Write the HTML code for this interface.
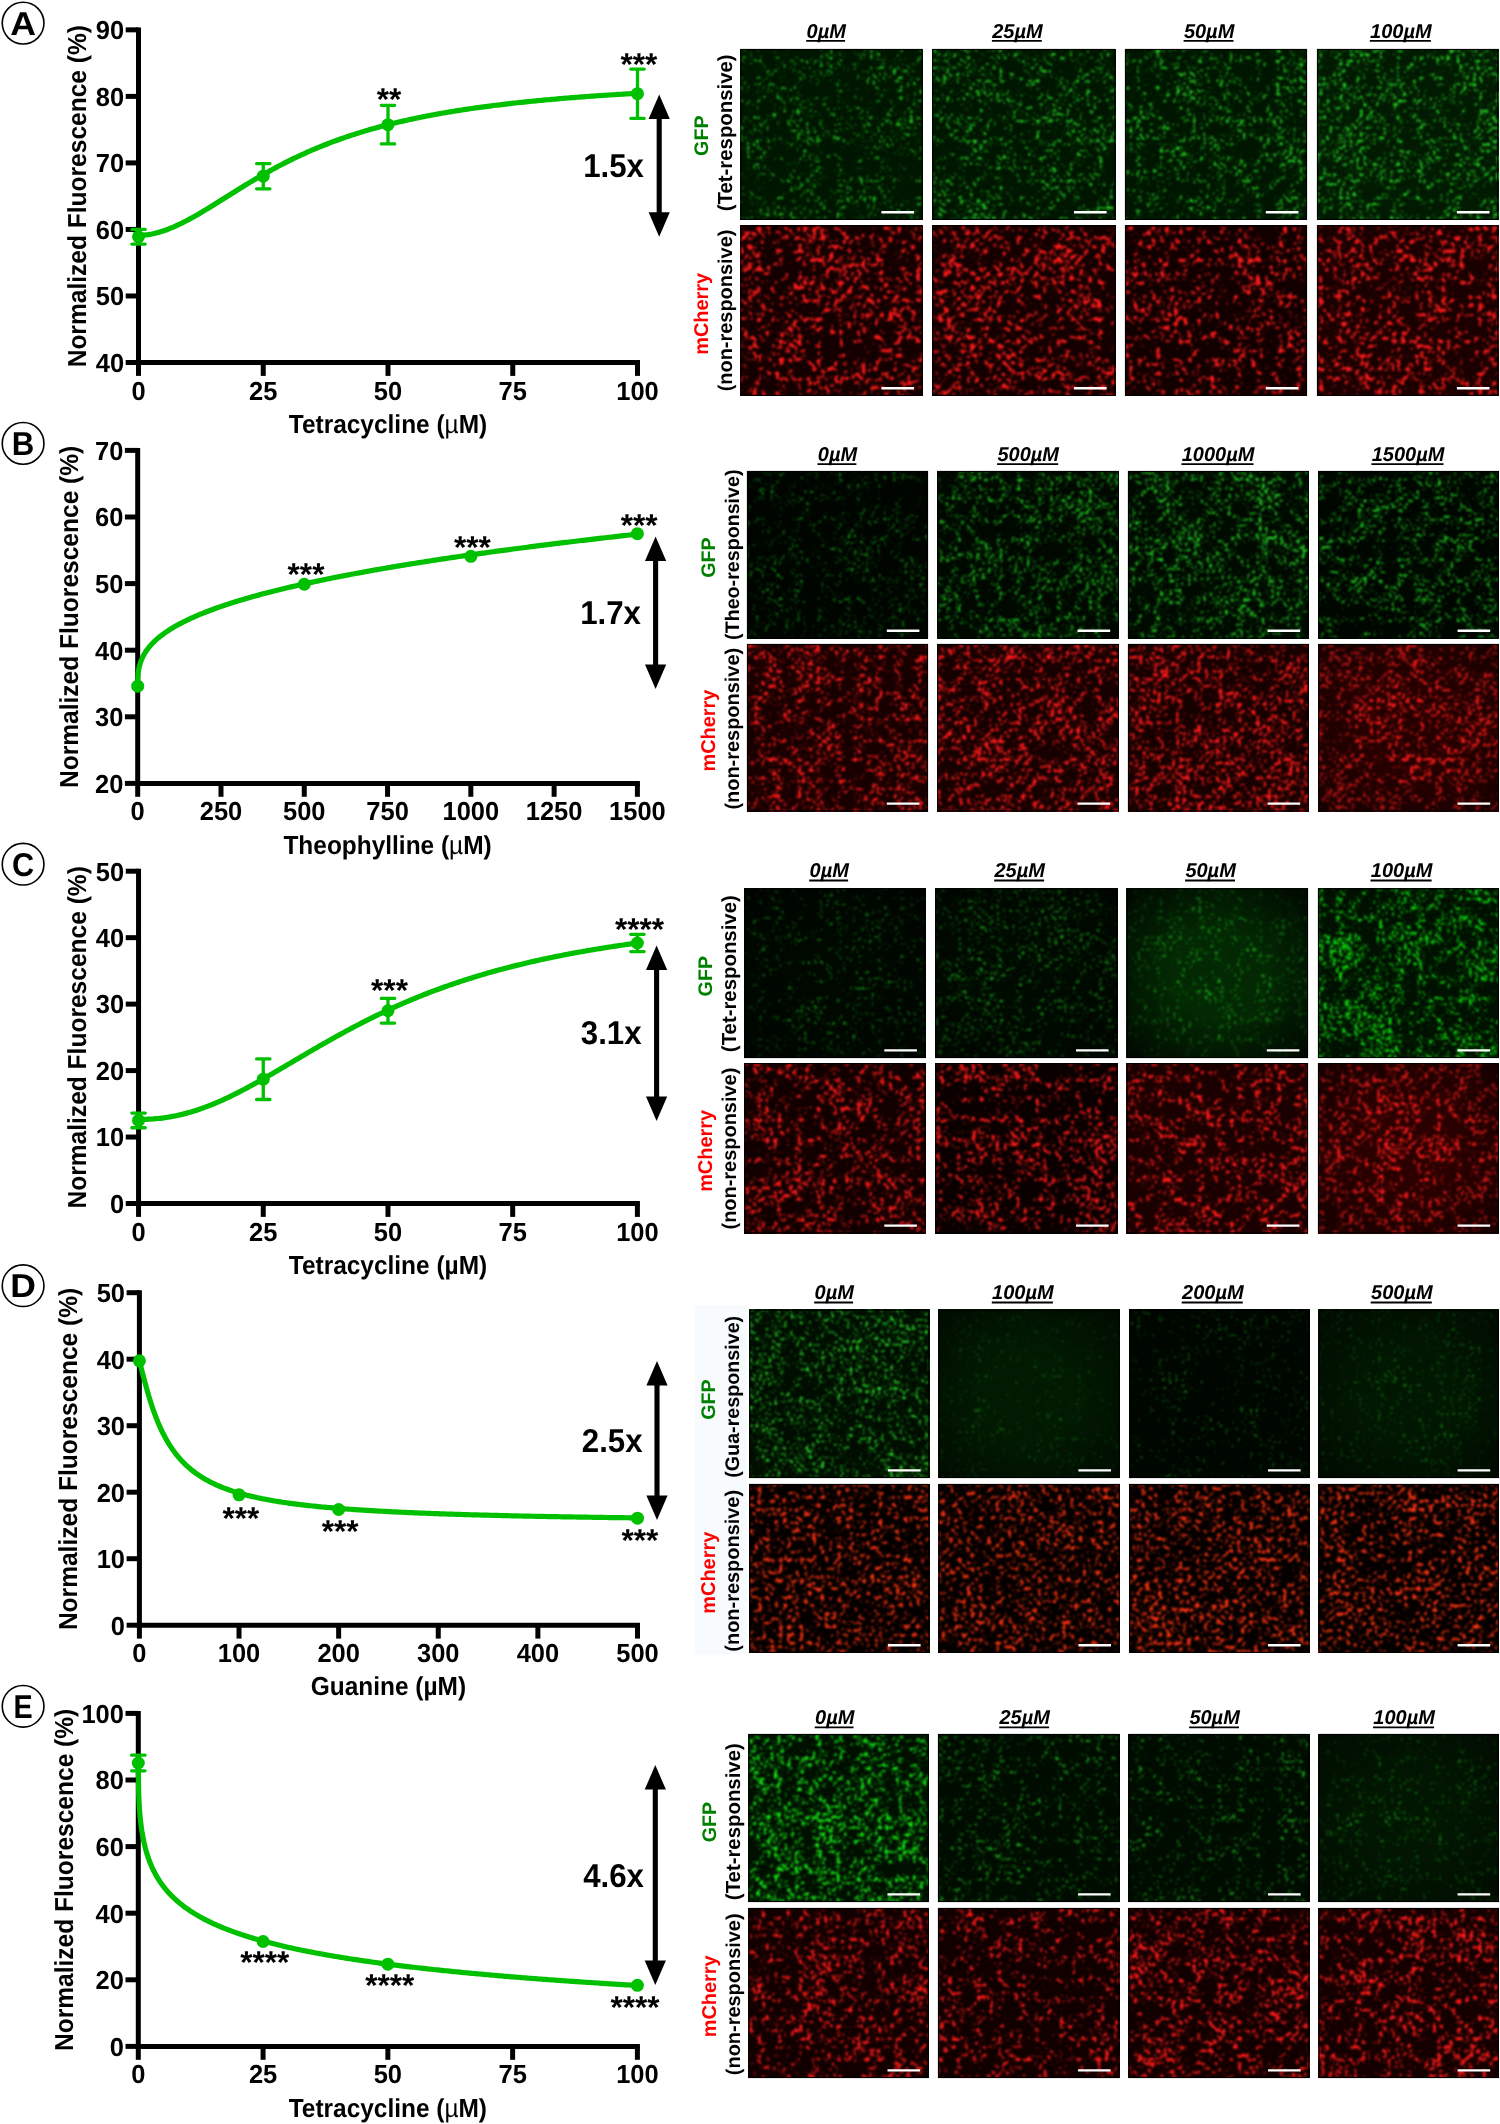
<!DOCTYPE html>
<html><head><meta charset="utf-8"><title>Figure</title>
<style>html,body{margin:0;padding:0;background:#fff;width:1500px;height:2124px;overflow:hidden}svg{display:block}text{text-rendering:geometricPrecision}</style></head>
<body><svg style="will-change:transform" width="1500" height="2124" viewBox="0 0 1500 2124">
<defs>
<radialGradient id="vig" cx="0.5" cy="0.5" r="0.72"><stop offset="0.35" stop-color="#000" stop-opacity="0"/><stop offset="1" stop-color="#000" stop-opacity="1"/></radialGradient>
<filter id="t1" x="0" y="0" width="1" height="1" color-interpolation-filters="sRGB"><feTurbulence type="fractalNoise" baseFrequency="0.3" numOctaves="2" seed="14" result="n0"/><feColorMatrix in="n0" type="matrix" values="1 0 0 0 0 0 1 0 0 0 0 0 1 0 0 0 0 0 0 1" result="n"/><feTurbulence type="turbulence" baseFrequency="0.05" numOctaves="2" seed="45" result="r0"/><feColorMatrix in="r0" type="matrix" values="-1 0 0 0 1 0 1 0 0 0 0 0 1 0 0 0 0 0 0 1" result="r"/><feComposite in="n" in2="r" operator="arithmetic" k1="0" k2="1" k3="0.5" k4="-0.375" result="v1"/><feTurbulence type="fractalNoise" baseFrequency="0.025" numOctaves="2" seed="113" result="m0"/><feColorMatrix in="m0" type="matrix" values="1 0 0 0 0 0 1 0 0 0 0 0 1 0 0 0 0 0 0 1" result="m"/><feComposite in="v1" in2="m" operator="arithmetic" k1="0" k2="1" k3="0.15" k4="-0.075" result="v"/><feColorMatrix in="v" type="matrix" values="0 0 0 0 0.118 0 0 0 0 0.765 0 0 0 0 0.118 5.0 0 0 0 -3.092" result="d"/><feGaussianBlur in="d" stdDeviation="1.0" result="d3"/><feFlood flood-color="#011601" result="bg"/><feMerge><feMergeNode in="bg"/><feMergeNode in="d3"/></feMerge></filter>
<filter id="t2" x="0" y="0" width="1" height="1" color-interpolation-filters="sRGB"><feTurbulence type="fractalNoise" baseFrequency="0.3" numOctaves="2" seed="27" result="n0"/><feColorMatrix in="n0" type="matrix" values="1 0 0 0 0 0 1 0 0 0 0 0 1 0 0 0 0 0 0 1" result="n"/><feTurbulence type="turbulence" baseFrequency="0.05" numOctaves="2" seed="58" result="r0"/><feColorMatrix in="r0" type="matrix" values="-1 0 0 0 1 0 1 0 0 0 0 0 1 0 0 0 0 0 0 1" result="r"/><feComposite in="n" in2="r" operator="arithmetic" k1="0" k2="1" k3="0.5" k4="-0.375" result="v1"/><feTurbulence type="fractalNoise" baseFrequency="0.025" numOctaves="2" seed="126" result="m0"/><feColorMatrix in="m0" type="matrix" values="1 0 0 0 0 0 1 0 0 0 0 0 1 0 0 0 0 0 0 1" result="m"/><feComposite in="v1" in2="m" operator="arithmetic" k1="0" k2="1" k3="0.15" k4="-0.075" result="v"/><feColorMatrix in="v" type="matrix" values="0 0 0 0 0.137 0 0 0 0 0.824 0 0 0 0 0.137 5.0 0 0 0 -2.990" result="d"/><feGaussianBlur in="d" stdDeviation="1.0" result="d3"/><feFlood flood-color="#011601" result="bg"/><feMerge><feMergeNode in="bg"/><feMergeNode in="d3"/></feMerge></filter>
<filter id="t3" x="0" y="0" width="1" height="1" color-interpolation-filters="sRGB"><feTurbulence type="fractalNoise" baseFrequency="0.3" numOctaves="2" seed="40" result="n0"/><feColorMatrix in="n0" type="matrix" values="1 0 0 0 0 0 1 0 0 0 0 0 1 0 0 0 0 0 0 1" result="n"/><feTurbulence type="turbulence" baseFrequency="0.05" numOctaves="2" seed="71" result="r0"/><feColorMatrix in="r0" type="matrix" values="-1 0 0 0 1 0 1 0 0 0 0 0 1 0 0 0 0 0 0 1" result="r"/><feComposite in="n" in2="r" operator="arithmetic" k1="0" k2="1" k3="0.5" k4="-0.375" result="v1"/><feTurbulence type="fractalNoise" baseFrequency="0.025" numOctaves="2" seed="139" result="m0"/><feColorMatrix in="m0" type="matrix" values="1 0 0 0 0 0 1 0 0 0 0 0 1 0 0 0 0 0 0 1" result="m"/><feComposite in="v1" in2="m" operator="arithmetic" k1="0" k2="1" k3="0.15" k4="-0.075" result="v"/><feColorMatrix in="v" type="matrix" values="0 0 0 0 0.137 0 0 0 0 0.824 0 0 0 0 0.137 5.0 0 0 0 -2.990" result="d"/><feGaussianBlur in="d" stdDeviation="1.0" result="d3"/><feFlood flood-color="#011601" result="bg"/><feMerge><feMergeNode in="bg"/><feMergeNode in="d3"/></feMerge></filter>
<filter id="t4" x="0" y="0" width="1" height="1" color-interpolation-filters="sRGB"><feTurbulence type="fractalNoise" baseFrequency="0.3" numOctaves="2" seed="53" result="n0"/><feColorMatrix in="n0" type="matrix" values="1 0 0 0 0 0 1 0 0 0 0 0 1 0 0 0 0 0 0 1" result="n"/><feTurbulence type="turbulence" baseFrequency="0.05" numOctaves="2" seed="84" result="r0"/><feColorMatrix in="r0" type="matrix" values="-1 0 0 0 1 0 1 0 0 0 0 0 1 0 0 0 0 0 0 1" result="r"/><feComposite in="n" in2="r" operator="arithmetic" k1="0" k2="1" k3="0.5" k4="-0.375" result="v1"/><feTurbulence type="fractalNoise" baseFrequency="0.025" numOctaves="2" seed="152" result="m0"/><feColorMatrix in="m0" type="matrix" values="1 0 0 0 0 0 1 0 0 0 0 0 1 0 0 0 0 0 0 1" result="m"/><feComposite in="v1" in2="m" operator="arithmetic" k1="0" k2="1" k3="0.15" k4="-0.075" result="v"/><feColorMatrix in="v" type="matrix" values="0 0 0 0 0.137 0 0 0 0 0.843 0 0 0 0 0.137 5.0 0 0 0 -2.918" result="d"/><feGaussianBlur in="d" stdDeviation="1.0" result="d3"/><feFlood flood-color="#021a02" result="bg"/><feMerge><feMergeNode in="bg"/><feMergeNode in="d3"/></feMerge></filter>
<filter id="t5" x="0" y="0" width="1" height="1" color-interpolation-filters="sRGB"><feTurbulence type="fractalNoise" baseFrequency="0.2205" numOctaves="2" seed="66" result="n0"/><feColorMatrix in="n0" type="matrix" values="1 0 0 0 0 0 1 0 0 0 0 0 1 0 0 0 0 0 0 1" result="n"/><feTurbulence type="turbulence" baseFrequency="0.05" numOctaves="2" seed="97" result="r0"/><feColorMatrix in="r0" type="matrix" values="-1 0 0 0 1 0 1 0 0 0 0 0 1 0 0 0 0 0 0 1" result="r"/><feComposite in="n" in2="r" operator="arithmetic" k1="0" k2="1" k3="0.5" k4="-0.375" result="v1"/><feTurbulence type="fractalNoise" baseFrequency="0.025" numOctaves="2" seed="165" result="m0"/><feColorMatrix in="m0" type="matrix" values="1 0 0 0 0 0 1 0 0 0 0 0 1 0 0 0 0 0 0 1" result="m"/><feComposite in="v1" in2="m" operator="arithmetic" k1="0" k2="1" k3="0.15" k4="-0.075" result="v"/><feColorMatrix in="v" type="matrix" values="0 0 0 0 1.000 0 0 0 0 0.098 0 0 0 0 0.098 6.5 0 0 0 -3.676" result="d"/><feGaussianBlur in="d" stdDeviation="1.0" result="d3"/><feFlood flood-color="#140000" result="bg"/><feMerge><feMergeNode in="bg"/><feMergeNode in="d3"/></feMerge></filter>
<filter id="t6" x="0" y="0" width="1" height="1" color-interpolation-filters="sRGB"><feTurbulence type="fractalNoise" baseFrequency="0.2205" numOctaves="2" seed="79" result="n0"/><feColorMatrix in="n0" type="matrix" values="1 0 0 0 0 0 1 0 0 0 0 0 1 0 0 0 0 0 0 1" result="n"/><feTurbulence type="turbulence" baseFrequency="0.05" numOctaves="2" seed="110" result="r0"/><feColorMatrix in="r0" type="matrix" values="-1 0 0 0 1 0 1 0 0 0 0 0 1 0 0 0 0 0 0 1" result="r"/><feComposite in="n" in2="r" operator="arithmetic" k1="0" k2="1" k3="0.5" k4="-0.375" result="v1"/><feTurbulence type="fractalNoise" baseFrequency="0.025" numOctaves="2" seed="178" result="m0"/><feColorMatrix in="m0" type="matrix" values="1 0 0 0 0 0 1 0 0 0 0 0 1 0 0 0 0 0 0 1" result="m"/><feComposite in="v1" in2="m" operator="arithmetic" k1="0" k2="1" k3="0.15" k4="-0.075" result="v"/><feColorMatrix in="v" type="matrix" values="0 0 0 0 1.000 0 0 0 0 0.098 0 0 0 0 0.098 6.5 0 0 0 -3.676" result="d"/><feGaussianBlur in="d" stdDeviation="1.0" result="d3"/><feFlood flood-color="#140000" result="bg"/><feMerge><feMergeNode in="bg"/><feMergeNode in="d3"/></feMerge></filter>
<filter id="t7" x="0" y="0" width="1" height="1" color-interpolation-filters="sRGB"><feTurbulence type="fractalNoise" baseFrequency="0.2205" numOctaves="2" seed="92" result="n0"/><feColorMatrix in="n0" type="matrix" values="1 0 0 0 0 0 1 0 0 0 0 0 1 0 0 0 0 0 0 1" result="n"/><feTurbulence type="turbulence" baseFrequency="0.05" numOctaves="2" seed="123" result="r0"/><feColorMatrix in="r0" type="matrix" values="-1 0 0 0 1 0 1 0 0 0 0 0 1 0 0 0 0 0 0 1" result="r"/><feComposite in="n" in2="r" operator="arithmetic" k1="0" k2="1" k3="0.5" k4="-0.375" result="v1"/><feTurbulence type="fractalNoise" baseFrequency="0.025" numOctaves="2" seed="191" result="m0"/><feColorMatrix in="m0" type="matrix" values="1 0 0 0 0 0 1 0 0 0 0 0 1 0 0 0 0 0 0 1" result="m"/><feComposite in="v1" in2="m" operator="arithmetic" k1="0" k2="1" k3="0.15" k4="-0.075" result="v"/><feColorMatrix in="v" type="matrix" values="0 0 0 0 1.000 0 0 0 0 0.098 0 0 0 0 0.098 6.5 0 0 0 -3.754" result="d"/><feGaussianBlur in="d" stdDeviation="1.0" result="d3"/><feFlood flood-color="#120000" result="bg"/><feMerge><feMergeNode in="bg"/><feMergeNode in="d3"/></feMerge></filter>
<filter id="t8" x="0" y="0" width="1" height="1" color-interpolation-filters="sRGB"><feTurbulence type="fractalNoise" baseFrequency="0.2205" numOctaves="2" seed="105" result="n0"/><feColorMatrix in="n0" type="matrix" values="1 0 0 0 0 0 1 0 0 0 0 0 1 0 0 0 0 0 0 1" result="n"/><feTurbulence type="turbulence" baseFrequency="0.05" numOctaves="2" seed="136" result="r0"/><feColorMatrix in="r0" type="matrix" values="-1 0 0 0 1 0 1 0 0 0 0 0 1 0 0 0 0 0 0 1" result="r"/><feComposite in="n" in2="r" operator="arithmetic" k1="0" k2="1" k3="0.5" k4="-0.375" result="v1"/><feTurbulence type="fractalNoise" baseFrequency="0.025" numOctaves="2" seed="204" result="m0"/><feColorMatrix in="m0" type="matrix" values="1 0 0 0 0 0 1 0 0 0 0 0 1 0 0 0 0 0 0 1" result="m"/><feComposite in="v1" in2="m" operator="arithmetic" k1="0" k2="1" k3="0.15" k4="-0.075" result="v"/><feColorMatrix in="v" type="matrix" values="0 0 0 0 1.000 0 0 0 0 0.098 0 0 0 0 0.098 6.5 0 0 0 -3.676" result="d"/><feGaussianBlur in="d" stdDeviation="1.0" result="d3"/><feFlood flood-color="#1a0000" result="bg"/><feMerge><feMergeNode in="bg"/><feMergeNode in="d3"/></feMerge></filter>
<filter id="t9" x="0" y="0" width="1" height="1" color-interpolation-filters="sRGB"><feTurbulence type="fractalNoise" baseFrequency="0.336" numOctaves="2" seed="118" result="n0"/><feColorMatrix in="n0" type="matrix" values="1 0 0 0 0 0 1 0 0 0 0 0 1 0 0 0 0 0 0 1" result="n"/><feTurbulence type="turbulence" baseFrequency="0.05" numOctaves="2" seed="149" result="r0"/><feColorMatrix in="r0" type="matrix" values="-1 0 0 0 1 0 1 0 0 0 0 0 1 0 0 0 0 0 0 1" result="r"/><feComposite in="n" in2="r" operator="arithmetic" k1="0" k2="1" k3="0.5" k4="-0.375" result="v1"/><feTurbulence type="fractalNoise" baseFrequency="0.025" numOctaves="2" seed="217" result="m0"/><feColorMatrix in="m0" type="matrix" values="1 0 0 0 0 0 1 0 0 0 0 0 1 0 0 0 0 0 0 1" result="m"/><feComposite in="v1" in2="m" operator="arithmetic" k1="0" k2="1" k3="0.15" k4="-0.075" result="v"/><feColorMatrix in="v" type="matrix" values="0 0 0 0 0.078 0 0 0 0 0.588 0 0 0 0 0.078 5.0 0 0 0 -3.230" result="d"/><feGaussianBlur in="d" stdDeviation="1.0" result="d3"/><feFlood flood-color="#000500" result="bg"/><feMerge><feMergeNode in="bg"/><feMergeNode in="d3"/></feMerge></filter>
<filter id="t10" x="0" y="0" width="1" height="1" color-interpolation-filters="sRGB"><feTurbulence type="fractalNoise" baseFrequency="0.336" numOctaves="2" seed="131" result="n0"/><feColorMatrix in="n0" type="matrix" values="1 0 0 0 0 0 1 0 0 0 0 0 1 0 0 0 0 0 0 1" result="n"/><feTurbulence type="turbulence" baseFrequency="0.05" numOctaves="2" seed="162" result="r0"/><feColorMatrix in="r0" type="matrix" values="-1 0 0 0 1 0 1 0 0 0 0 0 1 0 0 0 0 0 0 1" result="r"/><feComposite in="n" in2="r" operator="arithmetic" k1="0" k2="1" k3="0.5" k4="-0.375" result="v1"/><feTurbulence type="fractalNoise" baseFrequency="0.025" numOctaves="2" seed="230" result="m0"/><feColorMatrix in="m0" type="matrix" values="1 0 0 0 0 0 1 0 0 0 0 0 1 0 0 0 0 0 0 1" result="m"/><feComposite in="v1" in2="m" operator="arithmetic" k1="0" k2="1" k3="0.15" k4="-0.075" result="v"/><feColorMatrix in="v" type="matrix" values="0 0 0 0 0.118 0 0 0 0 0.804 0 0 0 0 0.118 5.0 0 0 0 -2.900" result="d"/><feGaussianBlur in="d" stdDeviation="1.0" result="d3"/><feFlood flood-color="#000800" result="bg"/><feMerge><feMergeNode in="bg"/><feMergeNode in="d3"/></feMerge></filter>
<filter id="t11" x="0" y="0" width="1" height="1" color-interpolation-filters="sRGB"><feTurbulence type="fractalNoise" baseFrequency="0.324" numOctaves="2" seed="144" result="n0"/><feColorMatrix in="n0" type="matrix" values="1 0 0 0 0 0 1 0 0 0 0 0 1 0 0 0 0 0 0 1" result="n"/><feTurbulence type="turbulence" baseFrequency="0.05" numOctaves="2" seed="175" result="r0"/><feColorMatrix in="r0" type="matrix" values="-1 0 0 0 1 0 1 0 0 0 0 0 1 0 0 0 0 0 0 1" result="r"/><feComposite in="n" in2="r" operator="arithmetic" k1="0" k2="1" k3="0.5" k4="-0.375" result="v1"/><feTurbulence type="fractalNoise" baseFrequency="0.025" numOctaves="2" seed="243" result="m0"/><feColorMatrix in="m0" type="matrix" values="1 0 0 0 0 0 1 0 0 0 0 0 1 0 0 0 0 0 0 1" result="m"/><feComposite in="v1" in2="m" operator="arithmetic" k1="0" k2="1" k3="0.15" k4="-0.075" result="v"/><feColorMatrix in="v" type="matrix" values="0 0 0 0 0.137 0 0 0 0 0.843 0 0 0 0 0.137 5.0 0 0 0 -2.870" result="d"/><feGaussianBlur in="d" stdDeviation="1.0" result="d3"/><feFlood flood-color="#000a00" result="bg"/><feMerge><feMergeNode in="bg"/><feMergeNode in="d3"/></feMerge></filter>
<filter id="t12" x="0" y="0" width="1" height="1" color-interpolation-filters="sRGB"><feTurbulence type="fractalNoise" baseFrequency="0.324" numOctaves="2" seed="157" result="n0"/><feColorMatrix in="n0" type="matrix" values="1 0 0 0 0 0 1 0 0 0 0 0 1 0 0 0 0 0 0 1" result="n"/><feTurbulence type="turbulence" baseFrequency="0.05" numOctaves="2" seed="188" result="r0"/><feColorMatrix in="r0" type="matrix" values="-1 0 0 0 1 0 1 0 0 0 0 0 1 0 0 0 0 0 0 1" result="r"/><feComposite in="n" in2="r" operator="arithmetic" k1="0" k2="1" k3="0.5" k4="-0.375" result="v1"/><feTurbulence type="fractalNoise" baseFrequency="0.025" numOctaves="2" seed="256" result="m0"/><feColorMatrix in="m0" type="matrix" values="1 0 0 0 0 0 1 0 0 0 0 0 1 0 0 0 0 0 0 1" result="m"/><feComposite in="v1" in2="m" operator="arithmetic" k1="0" k2="1" k3="0.15" k4="-0.075" result="v"/><feColorMatrix in="v" type="matrix" values="0 0 0 0 0.118 0 0 0 0 0.804 0 0 0 0 0.118 5.0 0 0 0 -2.930" result="d"/><feGaussianBlur in="d" stdDeviation="1.0" result="d3"/><feFlood flood-color="#000600" result="bg"/><feMerge><feMergeNode in="bg"/><feMergeNode in="d3"/></feMerge></filter>
<filter id="t13" x="0" y="0" width="1" height="1" color-interpolation-filters="sRGB"><feTurbulence type="fractalNoise" baseFrequency="0.273" numOctaves="2" seed="170" result="n0"/><feColorMatrix in="n0" type="matrix" values="1 0 0 0 0 0 1 0 0 0 0 0 1 0 0 0 0 0 0 1" result="n"/><feTurbulence type="turbulence" baseFrequency="0.05" numOctaves="2" seed="201" result="r0"/><feColorMatrix in="r0" type="matrix" values="-1 0 0 0 1 0 1 0 0 0 0 0 1 0 0 0 0 0 0 1" result="r"/><feComposite in="n" in2="r" operator="arithmetic" k1="0" k2="1" k3="0.5" k4="-0.375" result="v1"/><feTurbulence type="fractalNoise" baseFrequency="0.025" numOctaves="2" seed="269" result="m0"/><feColorMatrix in="m0" type="matrix" values="1 0 0 0 0 0 1 0 0 0 0 0 1 0 0 0 0 0 0 1" result="m"/><feComposite in="v1" in2="m" operator="arithmetic" k1="0" k2="1" k3="0.15" k4="-0.075" result="v"/><feColorMatrix in="v" type="matrix" values="0 0 0 0 1.000 0 0 0 0 0.098 0 0 0 0 0.098 6.5 0 0 0 -3.715" result="d"/><feGaussianBlur in="d" stdDeviation="1.0" result="d3"/><feFlood flood-color="#180000" result="bg"/><feMerge><feMergeNode in="bg"/><feMergeNode in="d3"/></feMerge></filter>
<filter id="t14" x="0" y="0" width="1" height="1" color-interpolation-filters="sRGB"><feTurbulence type="fractalNoise" baseFrequency="0.273" numOctaves="2" seed="183" result="n0"/><feColorMatrix in="n0" type="matrix" values="1 0 0 0 0 0 1 0 0 0 0 0 1 0 0 0 0 0 0 1" result="n"/><feTurbulence type="turbulence" baseFrequency="0.05" numOctaves="2" seed="214" result="r0"/><feColorMatrix in="r0" type="matrix" values="-1 0 0 0 1 0 1 0 0 0 0 0 1 0 0 0 0 0 0 1" result="r"/><feComposite in="n" in2="r" operator="arithmetic" k1="0" k2="1" k3="0.5" k4="-0.375" result="v1"/><feTurbulence type="fractalNoise" baseFrequency="0.025" numOctaves="2" seed="282" result="m0"/><feColorMatrix in="m0" type="matrix" values="1 0 0 0 0 0 1 0 0 0 0 0 1 0 0 0 0 0 0 1" result="m"/><feComposite in="v1" in2="m" operator="arithmetic" k1="0" k2="1" k3="0.15" k4="-0.075" result="v"/><feColorMatrix in="v" type="matrix" values="0 0 0 0 1.000 0 0 0 0 0.098 0 0 0 0 0.098 6.5 0 0 0 -3.637" result="d"/><feGaussianBlur in="d" stdDeviation="1.0" result="d3"/><feFlood flood-color="#160000" result="bg"/><feMerge><feMergeNode in="bg"/><feMergeNode in="d3"/></feMerge></filter>
<filter id="t15" x="0" y="0" width="1" height="1" color-interpolation-filters="sRGB"><feTurbulence type="fractalNoise" baseFrequency="0.273" numOctaves="2" seed="196" result="n0"/><feColorMatrix in="n0" type="matrix" values="1 0 0 0 0 0 1 0 0 0 0 0 1 0 0 0 0 0 0 1" result="n"/><feTurbulence type="turbulence" baseFrequency="0.05" numOctaves="2" seed="227" result="r0"/><feColorMatrix in="r0" type="matrix" values="-1 0 0 0 1 0 1 0 0 0 0 0 1 0 0 0 0 0 0 1" result="r"/><feComposite in="n" in2="r" operator="arithmetic" k1="0" k2="1" k3="0.5" k4="-0.375" result="v1"/><feTurbulence type="fractalNoise" baseFrequency="0.025" numOctaves="2" seed="295" result="m0"/><feColorMatrix in="m0" type="matrix" values="1 0 0 0 0 0 1 0 0 0 0 0 1 0 0 0 0 0 0 1" result="m"/><feComposite in="v1" in2="m" operator="arithmetic" k1="0" k2="1" k3="0.15" k4="-0.075" result="v"/><feColorMatrix in="v" type="matrix" values="0 0 0 0 1.000 0 0 0 0 0.098 0 0 0 0 0.098 6.5 0 0 0 -3.637" result="d"/><feGaussianBlur in="d" stdDeviation="1.0" result="d3"/><feFlood flood-color="#160000" result="bg"/><feMerge><feMergeNode in="bg"/><feMergeNode in="d3"/></feMerge></filter>
<filter id="t16" x="0" y="0" width="1" height="1" color-interpolation-filters="sRGB"><feTurbulence type="fractalNoise" baseFrequency="0.273" numOctaves="2" seed="209" result="n0"/><feColorMatrix in="n0" type="matrix" values="1 0 0 0 0 0 1 0 0 0 0 0 1 0 0 0 0 0 0 1" result="n"/><feTurbulence type="turbulence" baseFrequency="0.05" numOctaves="2" seed="240" result="r0"/><feColorMatrix in="r0" type="matrix" values="-1 0 0 0 1 0 1 0 0 0 0 0 1 0 0 0 0 0 0 1" result="r"/><feComposite in="n" in2="r" operator="arithmetic" k1="0" k2="1" k3="0.5" k4="-0.375" result="v1"/><feTurbulence type="fractalNoise" baseFrequency="0.025" numOctaves="2" seed="308" result="m0"/><feColorMatrix in="m0" type="matrix" values="1 0 0 0 0 0 1 0 0 0 0 0 1 0 0 0 0 0 0 1" result="m"/><feComposite in="v1" in2="m" operator="arithmetic" k1="0" k2="1" k3="0.15" k4="-0.075" result="v"/><feColorMatrix in="v" type="matrix" values="0 0 0 0 1.000 0 0 0 0 0.098 0 0 0 0 0.098 6.5 0 0 0 -3.715" result="d"/><feGaussianBlur in="d" stdDeviation="1.0" result="d3"/><feFlood flood-color="#260000" result="bg"/><feMerge><feMergeNode in="bg"/><feMergeNode in="d3"/></feMerge></filter>
<filter id="t17" x="0" y="0" width="1" height="1" color-interpolation-filters="sRGB"><feTurbulence type="fractalNoise" baseFrequency="0.312" numOctaves="2" seed="222" result="n0"/><feColorMatrix in="n0" type="matrix" values="1 0 0 0 0 0 1 0 0 0 0 0 1 0 0 0 0 0 0 1" result="n"/><feTurbulence type="turbulence" baseFrequency="0.05" numOctaves="2" seed="253" result="r0"/><feColorMatrix in="r0" type="matrix" values="-1 0 0 0 1 0 1 0 0 0 0 0 1 0 0 0 0 0 0 1" result="r"/><feComposite in="n" in2="r" operator="arithmetic" k1="0" k2="1" k3="0.5" k4="-0.375" result="v1"/><feTurbulence type="fractalNoise" baseFrequency="0.025" numOctaves="2" seed="321" result="m0"/><feColorMatrix in="m0" type="matrix" values="1 0 0 0 0 0 1 0 0 0 0 0 1 0 0 0 0 0 0 1" result="m"/><feComposite in="v1" in2="m" operator="arithmetic" k1="0" k2="1" k3="0.15" k4="-0.075" result="v"/><feColorMatrix in="v" type="matrix" values="0 0 0 0 0.078 0 0 0 0 0.588 0 0 0 0 0.078 5.0 0 0 0 -3.230" result="d"/><feGaussianBlur in="d" stdDeviation="1.0" result="d3"/><feFlood flood-color="#000800" result="bg"/><feMerge><feMergeNode in="bg"/><feMergeNode in="d3"/></feMerge></filter>
<filter id="t18" x="0" y="0" width="1" height="1" color-interpolation-filters="sRGB"><feTurbulence type="fractalNoise" baseFrequency="0.312" numOctaves="2" seed="235" result="n0"/><feColorMatrix in="n0" type="matrix" values="1 0 0 0 0 0 1 0 0 0 0 0 1 0 0 0 0 0 0 1" result="n"/><feTurbulence type="turbulence" baseFrequency="0.05" numOctaves="2" seed="266" result="r0"/><feColorMatrix in="r0" type="matrix" values="-1 0 0 0 1 0 1 0 0 0 0 0 1 0 0 0 0 0 0 1" result="r"/><feComposite in="n" in2="r" operator="arithmetic" k1="0" k2="1" k3="0.5" k4="-0.375" result="v1"/><feTurbulence type="fractalNoise" baseFrequency="0.025" numOctaves="2" seed="334" result="m0"/><feColorMatrix in="m0" type="matrix" values="1 0 0 0 0 0 1 0 0 0 0 0 1 0 0 0 0 0 0 1" result="m"/><feComposite in="v1" in2="m" operator="arithmetic" k1="0" k2="1" k3="0.15" k4="-0.075" result="v"/><feColorMatrix in="v" type="matrix" values="0 0 0 0 0.098 0 0 0 0 0.667 0 0 0 0 0.098 5.0 0 0 0 -3.170" result="d"/><feGaussianBlur in="d" stdDeviation="1.0" result="d3"/><feFlood flood-color="#000a00" result="bg"/><feMerge><feMergeNode in="bg"/><feMergeNode in="d3"/></feMerge></filter>
<filter id="t19" x="0" y="0" width="1" height="1" color-interpolation-filters="sRGB"><feTurbulence type="fractalNoise" baseFrequency="0.312" numOctaves="2" seed="248" result="n0"/><feColorMatrix in="n0" type="matrix" values="1 0 0 0 0 0 1 0 0 0 0 0 1 0 0 0 0 0 0 1" result="n"/><feTurbulence type="turbulence" baseFrequency="0.05" numOctaves="2" seed="279" result="r0"/><feColorMatrix in="r0" type="matrix" values="-1 0 0 0 1 0 1 0 0 0 0 0 1 0 0 0 0 0 0 1" result="r"/><feComposite in="n" in2="r" operator="arithmetic" k1="0" k2="1" k3="0.5" k4="-0.375" result="v1"/><feTurbulence type="fractalNoise" baseFrequency="0.025" numOctaves="2" seed="347" result="m0"/><feColorMatrix in="m0" type="matrix" values="1 0 0 0 0 0 1 0 0 0 0 0 1 0 0 0 0 0 0 1" result="m"/><feComposite in="v1" in2="m" operator="arithmetic" k1="0" k2="1" k3="0.15" k4="-0.075" result="v"/><feColorMatrix in="v" type="matrix" values="0 0 0 0 0.098 0 0 0 0 0.667 0 0 0 0 0.098 5.0 0 0 0 -3.110" result="d"/><feGaussianBlur in="d" stdDeviation="1.0" result="d3"/><feFlood flood-color="#032803" result="bg"/><feMerge><feMergeNode in="bg"/><feMergeNode in="d3"/></feMerge></filter>
<filter id="t20" x="0" y="0" width="1" height="1" color-interpolation-filters="sRGB"><feTurbulence type="fractalNoise" baseFrequency="0.324" numOctaves="2" seed="261" result="n0"/><feColorMatrix in="n0" type="matrix" values="1 0 0 0 0 0 1 0 0 0 0 0 1 0 0 0 0 0 0 1" result="n"/><feTurbulence type="turbulence" baseFrequency="0.05" numOctaves="2" seed="292" result="r0"/><feColorMatrix in="r0" type="matrix" values="-1 0 0 0 1 0 1 0 0 0 0 0 1 0 0 0 0 0 0 1" result="r"/><feComposite in="n" in2="r" operator="arithmetic" k1="0" k2="1" k3="0.5" k4="-0.375" result="v1"/><feTurbulence type="fractalNoise" baseFrequency="0.025" numOctaves="2" seed="360" result="m0"/><feColorMatrix in="m0" type="matrix" values="1 0 0 0 0 0 1 0 0 0 0 0 1 0 0 0 0 0 0 1" result="m"/><feComposite in="v1" in2="m" operator="arithmetic" k1="0" k2="1" k3="0.15" k4="-0.075" result="v"/><feColorMatrix in="v" type="matrix" values="0 0 0 0 0.059 0 0 0 0 0.941 0 0 0 0 0.059 5.0 0 0 0 -2.810" result="d"/><feGaussianBlur in="d" stdDeviation="1.0" result="d3"/><feFlood flood-color="#011001" result="bg"/><feMerge><feMergeNode in="bg"/><feMergeNode in="d3"/></feMerge></filter>
<filter id="t21" x="0" y="0" width="1" height="1" color-interpolation-filters="sRGB"><feTurbulence type="fractalNoise" baseFrequency="0.252" numOctaves="2" seed="274" result="n0"/><feColorMatrix in="n0" type="matrix" values="1 0 0 0 0 0 1 0 0 0 0 0 1 0 0 0 0 0 0 1" result="n"/><feTurbulence type="turbulence" baseFrequency="0.05" numOctaves="2" seed="305" result="r0"/><feColorMatrix in="r0" type="matrix" values="-1 0 0 0 1 0 1 0 0 0 0 0 1 0 0 0 0 0 0 1" result="r"/><feComposite in="n" in2="r" operator="arithmetic" k1="0" k2="1" k3="0.5" k4="-0.375" result="v1"/><feTurbulence type="fractalNoise" baseFrequency="0.025" numOctaves="2" seed="373" result="m0"/><feColorMatrix in="m0" type="matrix" values="1 0 0 0 0 0 1 0 0 0 0 0 1 0 0 0 0 0 0 1" result="m"/><feComposite in="v1" in2="m" operator="arithmetic" k1="0" k2="1" k3="0.15" k4="-0.075" result="v"/><feColorMatrix in="v" type="matrix" values="0 0 0 0 1.000 0 0 0 0 0.098 0 0 0 0 0.098 6.5 0 0 0 -3.676" result="d"/><feGaussianBlur in="d" stdDeviation="1.0" result="d3"/><feFlood flood-color="#120000" result="bg"/><feMerge><feMergeNode in="bg"/><feMergeNode in="d3"/></feMerge></filter>
<filter id="t22" x="0" y="0" width="1" height="1" color-interpolation-filters="sRGB"><feTurbulence type="fractalNoise" baseFrequency="0.252" numOctaves="2" seed="287" result="n0"/><feColorMatrix in="n0" type="matrix" values="1 0 0 0 0 0 1 0 0 0 0 0 1 0 0 0 0 0 0 1" result="n"/><feTurbulence type="turbulence" baseFrequency="0.05" numOctaves="2" seed="318" result="r0"/><feColorMatrix in="r0" type="matrix" values="-1 0 0 0 1 0 1 0 0 0 0 0 1 0 0 0 0 0 0 1" result="r"/><feComposite in="n" in2="r" operator="arithmetic" k1="0" k2="1" k3="0.5" k4="-0.375" result="v1"/><feTurbulence type="fractalNoise" baseFrequency="0.025" numOctaves="2" seed="386" result="m0"/><feColorMatrix in="m0" type="matrix" values="1 0 0 0 0 0 1 0 0 0 0 0 1 0 0 0 0 0 0 1" result="m"/><feComposite in="v1" in2="m" operator="arithmetic" k1="0" k2="1" k3="0.15" k4="-0.075" result="v"/><feColorMatrix in="v" type="matrix" values="0 0 0 0 1.000 0 0 0 0 0.098 0 0 0 0 0.098 6.5 0 0 0 -3.715" result="d"/><feGaussianBlur in="d" stdDeviation="1.0" result="d3"/><feFlood flood-color="#0a0000" result="bg"/><feMerge><feMergeNode in="bg"/><feMergeNode in="d3"/></feMerge></filter>
<filter id="t23" x="0" y="0" width="1" height="1" color-interpolation-filters="sRGB"><feTurbulence type="fractalNoise" baseFrequency="0.252" numOctaves="2" seed="300" result="n0"/><feColorMatrix in="n0" type="matrix" values="1 0 0 0 0 0 1 0 0 0 0 0 1 0 0 0 0 0 0 1" result="n"/><feTurbulence type="turbulence" baseFrequency="0.05" numOctaves="2" seed="331" result="r0"/><feColorMatrix in="r0" type="matrix" values="-1 0 0 0 1 0 1 0 0 0 0 0 1 0 0 0 0 0 0 1" result="r"/><feComposite in="n" in2="r" operator="arithmetic" k1="0" k2="1" k3="0.5" k4="-0.375" result="v1"/><feTurbulence type="fractalNoise" baseFrequency="0.025" numOctaves="2" seed="399" result="m0"/><feColorMatrix in="m0" type="matrix" values="1 0 0 0 0 0 1 0 0 0 0 0 1 0 0 0 0 0 0 1" result="m"/><feComposite in="v1" in2="m" operator="arithmetic" k1="0" k2="1" k3="0.15" k4="-0.075" result="v"/><feColorMatrix in="v" type="matrix" values="0 0 0 0 1.000 0 0 0 0 0.098 0 0 0 0 0.098 6.5 0 0 0 -3.676" result="d"/><feGaussianBlur in="d" stdDeviation="1.0" result="d3"/><feFlood flood-color="#1a0000" result="bg"/><feMerge><feMergeNode in="bg"/><feMergeNode in="d3"/></feMerge></filter>
<filter id="t24" x="0" y="0" width="1" height="1" color-interpolation-filters="sRGB"><feTurbulence type="fractalNoise" baseFrequency="0.252" numOctaves="2" seed="313" result="n0"/><feColorMatrix in="n0" type="matrix" values="1 0 0 0 0 0 1 0 0 0 0 0 1 0 0 0 0 0 0 1" result="n"/><feTurbulence type="turbulence" baseFrequency="0.05" numOctaves="2" seed="344" result="r0"/><feColorMatrix in="r0" type="matrix" values="-1 0 0 0 1 0 1 0 0 0 0 0 1 0 0 0 0 0 0 1" result="r"/><feComposite in="n" in2="r" operator="arithmetic" k1="0" k2="1" k3="0.5" k4="-0.375" result="v1"/><feTurbulence type="fractalNoise" baseFrequency="0.025" numOctaves="2" seed="412" result="m0"/><feColorMatrix in="m0" type="matrix" values="1 0 0 0 0 0 1 0 0 0 0 0 1 0 0 0 0 0 0 1" result="m"/><feComposite in="v1" in2="m" operator="arithmetic" k1="0" k2="1" k3="0.15" k4="-0.075" result="v"/><feColorMatrix in="v" type="matrix" values="0 0 0 0 1.000 0 0 0 0 0.098 0 0 0 0 0.098 6.5 0 0 0 -3.676" result="d"/><feGaussianBlur in="d" stdDeviation="1.0" result="d3"/><feFlood flood-color="#2a0000" result="bg"/><feMerge><feMergeNode in="bg"/><feMergeNode in="d3"/></feMerge></filter>
<filter id="t25" x="0" y="0" width="1" height="1" color-interpolation-filters="sRGB"><feTurbulence type="fractalNoise" baseFrequency="0.32" numOctaves="2" seed="326" result="n0"/><feColorMatrix in="n0" type="matrix" values="1 0 0 0 0 0 1 0 0 0 0 0 1 0 0 0 0 0 0 1" result="n"/><feTurbulence type="turbulence" baseFrequency="0.05" numOctaves="2" seed="357" result="r0"/><feColorMatrix in="r0" type="matrix" values="-1 0 0 0 1 0 1 0 0 0 0 0 1 0 0 0 0 0 0 1" result="r"/><feComposite in="n" in2="r" operator="arithmetic" k1="0" k2="1" k3="0.3" k4="-0.225" result="v1"/><feTurbulence type="fractalNoise" baseFrequency="0.025" numOctaves="2" seed="425" result="m0"/><feColorMatrix in="m0" type="matrix" values="1 0 0 0 0 0 1 0 0 0 0 0 1 0 0 0 0 0 0 1" result="m"/><feComposite in="v1" in2="m" operator="arithmetic" k1="0" k2="1" k3="0.2" k4="-0.100" result="v"/><feColorMatrix in="v" type="matrix" values="0 0 0 0 0.157 0 0 0 0 0.882 0 0 0 0 0.157 5.0 0 0 0 -2.870" result="d"/><feGaussianBlur in="d" stdDeviation="1.0" result="d3"/><feFlood flood-color="#010d01" result="bg"/><feMerge><feMergeNode in="bg"/><feMergeNode in="d3"/></feMerge></filter>
<filter id="t26" x="0" y="0" width="1" height="1" color-interpolation-filters="sRGB"><feTurbulence type="fractalNoise" baseFrequency="0.32" numOctaves="2" seed="339" result="n0"/><feColorMatrix in="n0" type="matrix" values="1 0 0 0 0 0 1 0 0 0 0 0 1 0 0 0 0 0 0 1" result="n"/><feTurbulence type="turbulence" baseFrequency="0.05" numOctaves="2" seed="370" result="r0"/><feColorMatrix in="r0" type="matrix" values="-1 0 0 0 1 0 1 0 0 0 0 0 1 0 0 0 0 0 0 1" result="r"/><feComposite in="n" in2="r" operator="arithmetic" k1="0" k2="1" k3="0.3" k4="-0.225" result="v1"/><feTurbulence type="fractalNoise" baseFrequency="0.025" numOctaves="2" seed="438" result="m0"/><feColorMatrix in="m0" type="matrix" values="1 0 0 0 0 0 1 0 0 0 0 0 1 0 0 0 0 0 0 1" result="m"/><feComposite in="v1" in2="m" operator="arithmetic" k1="0" k2="1" k3="0.2" k4="-0.100" result="v"/><feColorMatrix in="v" type="matrix" values="0 0 0 0 0.078 0 0 0 0 0.471 0 0 0 0 0.078 5.0 0 0 0 -3.320" result="d"/><feGaussianBlur in="d" stdDeviation="1.0" result="d3"/><feFlood flood-color="#021a02" result="bg"/><feMerge><feMergeNode in="bg"/><feMergeNode in="d3"/></feMerge></filter>
<filter id="t27" x="0" y="0" width="1" height="1" color-interpolation-filters="sRGB"><feTurbulence type="fractalNoise" baseFrequency="0.32" numOctaves="2" seed="352" result="n0"/><feColorMatrix in="n0" type="matrix" values="1 0 0 0 0 0 1 0 0 0 0 0 1 0 0 0 0 0 0 1" result="n"/><feTurbulence type="turbulence" baseFrequency="0.05" numOctaves="2" seed="383" result="r0"/><feColorMatrix in="r0" type="matrix" values="-1 0 0 0 1 0 1 0 0 0 0 0 1 0 0 0 0 0 0 1" result="r"/><feComposite in="n" in2="r" operator="arithmetic" k1="0" k2="1" k3="0.3" k4="-0.225" result="v1"/><feTurbulence type="fractalNoise" baseFrequency="0.025" numOctaves="2" seed="451" result="m0"/><feColorMatrix in="m0" type="matrix" values="1 0 0 0 0 0 1 0 0 0 0 0 1 0 0 0 0 0 0 1" result="m"/><feComposite in="v1" in2="m" operator="arithmetic" k1="0" k2="1" k3="0.2" k4="-0.100" result="v"/><feColorMatrix in="v" type="matrix" values="0 0 0 0 0.078 0 0 0 0 0.510 0 0 0 0 0.078 5.0 0 0 0 -3.290" result="d"/><feGaussianBlur in="d" stdDeviation="1.0" result="d3"/><feFlood flood-color="#000600" result="bg"/><feMerge><feMergeNode in="bg"/><feMergeNode in="d3"/></feMerge></filter>
<filter id="t28" x="0" y="0" width="1" height="1" color-interpolation-filters="sRGB"><feTurbulence type="fractalNoise" baseFrequency="0.32" numOctaves="2" seed="365" result="n0"/><feColorMatrix in="n0" type="matrix" values="1 0 0 0 0 0 1 0 0 0 0 0 1 0 0 0 0 0 0 1" result="n"/><feTurbulence type="turbulence" baseFrequency="0.05" numOctaves="2" seed="396" result="r0"/><feColorMatrix in="r0" type="matrix" values="-1 0 0 0 1 0 1 0 0 0 0 0 1 0 0 0 0 0 0 1" result="r"/><feComposite in="n" in2="r" operator="arithmetic" k1="0" k2="1" k3="0.3" k4="-0.225" result="v1"/><feTurbulence type="fractalNoise" baseFrequency="0.025" numOctaves="2" seed="464" result="m0"/><feColorMatrix in="m0" type="matrix" values="1 0 0 0 0 0 1 0 0 0 0 0 1 0 0 0 0 0 0 1" result="m"/><feComposite in="v1" in2="m" operator="arithmetic" k1="0" k2="1" k3="0.2" k4="-0.100" result="v"/><feColorMatrix in="v" type="matrix" values="0 0 0 0 0.078 0 0 0 0 0.549 0 0 0 0 0.078 5.0 0 0 0 -3.260" result="d"/><feGaussianBlur in="d" stdDeviation="1.0" result="d3"/><feFlood flood-color="#021702" result="bg"/><feMerge><feMergeNode in="bg"/><feMergeNode in="d3"/></feMerge></filter>
<filter id="t29" x="0" y="0" width="1" height="1" color-interpolation-filters="sRGB"><feTurbulence type="fractalNoise" baseFrequency="0.24" numOctaves="2" seed="378" result="n0"/><feColorMatrix in="n0" type="matrix" values="1 0 0 0 0 0 1 0 0 0 0 0 1 0 0 0 0 0 0 1" result="n"/><feTurbulence type="turbulence" baseFrequency="0.05" numOctaves="2" seed="409" result="r0"/><feColorMatrix in="r0" type="matrix" values="-1 0 0 0 1 0 1 0 0 0 0 0 1 0 0 0 0 0 0 1" result="r"/><feComposite in="n" in2="r" operator="arithmetic" k1="0" k2="1" k3="0.25" k4="-0.188" result="v1"/><feTurbulence type="fractalNoise" baseFrequency="0.025" numOctaves="2" seed="477" result="m0"/><feColorMatrix in="m0" type="matrix" values="1 0 0 0 0 0 1 0 0 0 0 0 1 0 0 0 0 0 0 1" result="m"/><feComposite in="v1" in2="m" operator="arithmetic" k1="0" k2="1" k3="0.12" k4="-0.060" result="v"/><feColorMatrix in="v" type="matrix" values="0 0 0 0 1.000 0 0 0 0 0.196 0 0 0 0 0.059 7.0 0 0 0 -3.959" result="d"/><feGaussianBlur in="d" stdDeviation="0.85" result="d3"/><feFlood flood-color="#050000" result="bg"/><feMerge><feMergeNode in="bg"/><feMergeNode in="d3"/></feMerge></filter>
<filter id="t30" x="0" y="0" width="1" height="1" color-interpolation-filters="sRGB"><feTurbulence type="fractalNoise" baseFrequency="0.24" numOctaves="2" seed="391" result="n0"/><feColorMatrix in="n0" type="matrix" values="1 0 0 0 0 0 1 0 0 0 0 0 1 0 0 0 0 0 0 1" result="n"/><feTurbulence type="turbulence" baseFrequency="0.05" numOctaves="2" seed="422" result="r0"/><feColorMatrix in="r0" type="matrix" values="-1 0 0 0 1 0 1 0 0 0 0 0 1 0 0 0 0 0 0 1" result="r"/><feComposite in="n" in2="r" operator="arithmetic" k1="0" k2="1" k3="0.25" k4="-0.188" result="v1"/><feTurbulence type="fractalNoise" baseFrequency="0.025" numOctaves="2" seed="490" result="m0"/><feColorMatrix in="m0" type="matrix" values="1 0 0 0 0 0 1 0 0 0 0 0 1 0 0 0 0 0 0 1" result="m"/><feComposite in="v1" in2="m" operator="arithmetic" k1="0" k2="1" k3="0.12" k4="-0.060" result="v"/><feColorMatrix in="v" type="matrix" values="0 0 0 0 1.000 0 0 0 0 0.196 0 0 0 0 0.059 7.0 0 0 0 -3.959" result="d"/><feGaussianBlur in="d" stdDeviation="0.85" result="d3"/><feFlood flood-color="#050000" result="bg"/><feMerge><feMergeNode in="bg"/><feMergeNode in="d3"/></feMerge></filter>
<filter id="t31" x="0" y="0" width="1" height="1" color-interpolation-filters="sRGB"><feTurbulence type="fractalNoise" baseFrequency="0.24" numOctaves="2" seed="404" result="n0"/><feColorMatrix in="n0" type="matrix" values="1 0 0 0 0 0 1 0 0 0 0 0 1 0 0 0 0 0 0 1" result="n"/><feTurbulence type="turbulence" baseFrequency="0.05" numOctaves="2" seed="435" result="r0"/><feColorMatrix in="r0" type="matrix" values="-1 0 0 0 1 0 1 0 0 0 0 0 1 0 0 0 0 0 0 1" result="r"/><feComposite in="n" in2="r" operator="arithmetic" k1="0" k2="1" k3="0.25" k4="-0.188" result="v1"/><feTurbulence type="fractalNoise" baseFrequency="0.025" numOctaves="2" seed="503" result="m0"/><feColorMatrix in="m0" type="matrix" values="1 0 0 0 0 0 1 0 0 0 0 0 1 0 0 0 0 0 0 1" result="m"/><feComposite in="v1" in2="m" operator="arithmetic" k1="0" k2="1" k3="0.12" k4="-0.060" result="v"/><feColorMatrix in="v" type="matrix" values="0 0 0 0 1.000 0 0 0 0 0.196 0 0 0 0 0.059 7.0 0 0 0 -3.909" result="d"/><feGaussianBlur in="d" stdDeviation="0.85" result="d3"/><feFlood flood-color="#050000" result="bg"/><feMerge><feMergeNode in="bg"/><feMergeNode in="d3"/></feMerge></filter>
<filter id="t32" x="0" y="0" width="1" height="1" color-interpolation-filters="sRGB"><feTurbulence type="fractalNoise" baseFrequency="0.24" numOctaves="2" seed="417" result="n0"/><feColorMatrix in="n0" type="matrix" values="1 0 0 0 0 0 1 0 0 0 0 0 1 0 0 0 0 0 0 1" result="n"/><feTurbulence type="turbulence" baseFrequency="0.05" numOctaves="2" seed="448" result="r0"/><feColorMatrix in="r0" type="matrix" values="-1 0 0 0 1 0 1 0 0 0 0 0 1 0 0 0 0 0 0 1" result="r"/><feComposite in="n" in2="r" operator="arithmetic" k1="0" k2="1" k3="0.25" k4="-0.188" result="v1"/><feTurbulence type="fractalNoise" baseFrequency="0.025" numOctaves="2" seed="516" result="m0"/><feColorMatrix in="m0" type="matrix" values="1 0 0 0 0 0 1 0 0 0 0 0 1 0 0 0 0 0 0 1" result="m"/><feComposite in="v1" in2="m" operator="arithmetic" k1="0" k2="1" k3="0.12" k4="-0.060" result="v"/><feColorMatrix in="v" type="matrix" values="0 0 0 0 1.000 0 0 0 0 0.196 0 0 0 0 0.059 7.0 0 0 0 -3.959" result="d"/><feGaussianBlur in="d" stdDeviation="0.85" result="d3"/><feFlood flood-color="#050000" result="bg"/><feMerge><feMergeNode in="bg"/><feMergeNode in="d3"/></feMerge></filter>
<filter id="t33" x="0" y="0" width="1" height="1" color-interpolation-filters="sRGB"><feTurbulence type="fractalNoise" baseFrequency="0.288" numOctaves="2" seed="430" result="n0"/><feColorMatrix in="n0" type="matrix" values="1 0 0 0 0 0 1 0 0 0 0 0 1 0 0 0 0 0 0 1" result="n"/><feTurbulence type="turbulence" baseFrequency="0.05" numOctaves="2" seed="461" result="r0"/><feColorMatrix in="r0" type="matrix" values="-1 0 0 0 1 0 1 0 0 0 0 0 1 0 0 0 0 0 0 1" result="r"/><feComposite in="n" in2="r" operator="arithmetic" k1="0" k2="1" k3="0.5" k4="-0.375" result="v1"/><feTurbulence type="fractalNoise" baseFrequency="0.025" numOctaves="2" seed="529" result="m0"/><feColorMatrix in="m0" type="matrix" values="1 0 0 0 0 0 1 0 0 0 0 0 1 0 0 0 0 0 0 1" result="m"/><feComposite in="v1" in2="m" operator="arithmetic" k1="0" k2="1" k3="0.15" k4="-0.075" result="v"/><feColorMatrix in="v" type="matrix" values="0 0 0 0 0.078 0 0 0 0 0.941 0 0 0 0 0.078 5.0 0 0 0 -2.720" result="d"/><feGaussianBlur in="d" stdDeviation="1.0" result="d3"/><feFlood flood-color="#010f01" result="bg"/><feMerge><feMergeNode in="bg"/><feMergeNode in="d3"/></feMerge></filter>
<filter id="t34" x="0" y="0" width="1" height="1" color-interpolation-filters="sRGB"><feTurbulence type="fractalNoise" baseFrequency="0.288" numOctaves="2" seed="443" result="n0"/><feColorMatrix in="n0" type="matrix" values="1 0 0 0 0 0 1 0 0 0 0 0 1 0 0 0 0 0 0 1" result="n"/><feTurbulence type="turbulence" baseFrequency="0.05" numOctaves="2" seed="474" result="r0"/><feColorMatrix in="r0" type="matrix" values="-1 0 0 0 1 0 1 0 0 0 0 0 1 0 0 0 0 0 0 1" result="r"/><feComposite in="n" in2="r" operator="arithmetic" k1="0" k2="1" k3="0.5" k4="-0.375" result="v1"/><feTurbulence type="fractalNoise" baseFrequency="0.025" numOctaves="2" seed="542" result="m0"/><feColorMatrix in="m0" type="matrix" values="1 0 0 0 0 0 1 0 0 0 0 0 1 0 0 0 0 0 0 1" result="m"/><feComposite in="v1" in2="m" operator="arithmetic" k1="0" k2="1" k3="0.15" k4="-0.075" result="v"/><feColorMatrix in="v" type="matrix" values="0 0 0 0 0.098 0 0 0 0 0.667 0 0 0 0 0.098 5.0 0 0 0 -3.170" result="d"/><feGaussianBlur in="d" stdDeviation="1.0" result="d3"/><feFlood flood-color="#010c01" result="bg"/><feMerge><feMergeNode in="bg"/><feMergeNode in="d3"/></feMerge></filter>
<filter id="t35" x="0" y="0" width="1" height="1" color-interpolation-filters="sRGB"><feTurbulence type="fractalNoise" baseFrequency="0.288" numOctaves="2" seed="456" result="n0"/><feColorMatrix in="n0" type="matrix" values="1 0 0 0 0 0 1 0 0 0 0 0 1 0 0 0 0 0 0 1" result="n"/><feTurbulence type="turbulence" baseFrequency="0.05" numOctaves="2" seed="487" result="r0"/><feColorMatrix in="r0" type="matrix" values="-1 0 0 0 1 0 1 0 0 0 0 0 1 0 0 0 0 0 0 1" result="r"/><feComposite in="n" in2="r" operator="arithmetic" k1="0" k2="1" k3="0.5" k4="-0.375" result="v1"/><feTurbulence type="fractalNoise" baseFrequency="0.025" numOctaves="2" seed="555" result="m0"/><feColorMatrix in="m0" type="matrix" values="1 0 0 0 0 0 1 0 0 0 0 0 1 0 0 0 0 0 0 1" result="m"/><feComposite in="v1" in2="m" operator="arithmetic" k1="0" k2="1" k3="0.15" k4="-0.075" result="v"/><feColorMatrix in="v" type="matrix" values="0 0 0 0 0.098 0 0 0 0 0.627 0 0 0 0 0.098 5.0 0 0 0 -3.200" result="d"/><feGaussianBlur in="d" stdDeviation="1.0" result="d3"/><feFlood flood-color="#010c01" result="bg"/><feMerge><feMergeNode in="bg"/><feMergeNode in="d3"/></feMerge></filter>
<filter id="t36" x="0" y="0" width="1" height="1" color-interpolation-filters="sRGB"><feTurbulence type="fractalNoise" baseFrequency="0.312" numOctaves="2" seed="469" result="n0"/><feColorMatrix in="n0" type="matrix" values="1 0 0 0 0 0 1 0 0 0 0 0 1 0 0 0 0 0 0 1" result="n"/><feTurbulence type="turbulence" baseFrequency="0.05" numOctaves="2" seed="500" result="r0"/><feColorMatrix in="r0" type="matrix" values="-1 0 0 0 1 0 1 0 0 0 0 0 1 0 0 0 0 0 0 1" result="r"/><feComposite in="n" in2="r" operator="arithmetic" k1="0" k2="1" k3="0.5" k4="-0.375" result="v1"/><feTurbulence type="fractalNoise" baseFrequency="0.025" numOctaves="2" seed="568" result="m0"/><feColorMatrix in="m0" type="matrix" values="1 0 0 0 0 0 1 0 0 0 0 0 1 0 0 0 0 0 0 1" result="m"/><feComposite in="v1" in2="m" operator="arithmetic" k1="0" k2="1" k3="0.15" k4="-0.075" result="v"/><feColorMatrix in="v" type="matrix" values="0 0 0 0 0.078 0 0 0 0 0.549 0 0 0 0 0.078 5.0 0 0 0 -3.260" result="d"/><feGaussianBlur in="d" stdDeviation="1.0" result="d3"/><feFlood flood-color="#021602" result="bg"/><feMerge><feMergeNode in="bg"/><feMergeNode in="d3"/></feMerge></filter>
<filter id="t37" x="0" y="0" width="1" height="1" color-interpolation-filters="sRGB"><feTurbulence type="fractalNoise" baseFrequency="0.24150000000000002" numOctaves="2" seed="482" result="n0"/><feColorMatrix in="n0" type="matrix" values="1 0 0 0 0 0 1 0 0 0 0 0 1 0 0 0 0 0 0 1" result="n"/><feTurbulence type="turbulence" baseFrequency="0.05" numOctaves="2" seed="513" result="r0"/><feColorMatrix in="r0" type="matrix" values="-1 0 0 0 1 0 1 0 0 0 0 0 1 0 0 0 0 0 0 1" result="r"/><feComposite in="n" in2="r" operator="arithmetic" k1="0" k2="1" k3="0.5" k4="-0.375" result="v1"/><feTurbulence type="fractalNoise" baseFrequency="0.025" numOctaves="2" seed="581" result="m0"/><feColorMatrix in="m0" type="matrix" values="1 0 0 0 0 0 1 0 0 0 0 0 1 0 0 0 0 0 0 1" result="m"/><feComposite in="v1" in2="m" operator="arithmetic" k1="0" k2="1" k3="0.15" k4="-0.075" result="v"/><feColorMatrix in="v" type="matrix" values="0 0 0 0 1.000 0 0 0 0 0.098 0 0 0 0 0.098 6.5 0 0 0 -3.754" result="d"/><feGaussianBlur in="d" stdDeviation="1.0" result="d3"/><feFlood flood-color="#120000" result="bg"/><feMerge><feMergeNode in="bg"/><feMergeNode in="d3"/></feMerge></filter>
<filter id="t38" x="0" y="0" width="1" height="1" color-interpolation-filters="sRGB"><feTurbulence type="fractalNoise" baseFrequency="0.24150000000000002" numOctaves="2" seed="495" result="n0"/><feColorMatrix in="n0" type="matrix" values="1 0 0 0 0 0 1 0 0 0 0 0 1 0 0 0 0 0 0 1" result="n"/><feTurbulence type="turbulence" baseFrequency="0.05" numOctaves="2" seed="526" result="r0"/><feColorMatrix in="r0" type="matrix" values="-1 0 0 0 1 0 1 0 0 0 0 0 1 0 0 0 0 0 0 1" result="r"/><feComposite in="n" in2="r" operator="arithmetic" k1="0" k2="1" k3="0.5" k4="-0.375" result="v1"/><feTurbulence type="fractalNoise" baseFrequency="0.025" numOctaves="2" seed="594" result="m0"/><feColorMatrix in="m0" type="matrix" values="1 0 0 0 0 0 1 0 0 0 0 0 1 0 0 0 0 0 0 1" result="m"/><feComposite in="v1" in2="m" operator="arithmetic" k1="0" k2="1" k3="0.15" k4="-0.075" result="v"/><feColorMatrix in="v" type="matrix" values="0 0 0 0 1.000 0 0 0 0 0.098 0 0 0 0 0.098 6.5 0 0 0 -3.832" result="d"/><feGaussianBlur in="d" stdDeviation="1.0" result="d3"/><feFlood flood-color="#100000" result="bg"/><feMerge><feMergeNode in="bg"/><feMergeNode in="d3"/></feMerge></filter>
<filter id="t39" x="0" y="0" width="1" height="1" color-interpolation-filters="sRGB"><feTurbulence type="fractalNoise" baseFrequency="0.24150000000000002" numOctaves="2" seed="508" result="n0"/><feColorMatrix in="n0" type="matrix" values="1 0 0 0 0 0 1 0 0 0 0 0 1 0 0 0 0 0 0 1" result="n"/><feTurbulence type="turbulence" baseFrequency="0.05" numOctaves="2" seed="539" result="r0"/><feColorMatrix in="r0" type="matrix" values="-1 0 0 0 1 0 1 0 0 0 0 0 1 0 0 0 0 0 0 1" result="r"/><feComposite in="n" in2="r" operator="arithmetic" k1="0" k2="1" k3="0.5" k4="-0.375" result="v1"/><feTurbulence type="fractalNoise" baseFrequency="0.025" numOctaves="2" seed="607" result="m0"/><feColorMatrix in="m0" type="matrix" values="1 0 0 0 0 0 1 0 0 0 0 0 1 0 0 0 0 0 0 1" result="m"/><feComposite in="v1" in2="m" operator="arithmetic" k1="0" k2="1" k3="0.15" k4="-0.075" result="v"/><feColorMatrix in="v" type="matrix" values="0 0 0 0 1.000 0 0 0 0 0.098 0 0 0 0 0.098 6.5 0 0 0 -3.754" result="d"/><feGaussianBlur in="d" stdDeviation="1.0" result="d3"/><feFlood flood-color="#120000" result="bg"/><feMerge><feMergeNode in="bg"/><feMergeNode in="d3"/></feMerge></filter>
<filter id="t40" x="0" y="0" width="1" height="1" color-interpolation-filters="sRGB"><feTurbulence type="fractalNoise" baseFrequency="0.24150000000000002" numOctaves="2" seed="521" result="n0"/><feColorMatrix in="n0" type="matrix" values="1 0 0 0 0 0 1 0 0 0 0 0 1 0 0 0 0 0 0 1" result="n"/><feTurbulence type="turbulence" baseFrequency="0.05" numOctaves="2" seed="552" result="r0"/><feColorMatrix in="r0" type="matrix" values="-1 0 0 0 1 0 1 0 0 0 0 0 1 0 0 0 0 0 0 1" result="r"/><feComposite in="n" in2="r" operator="arithmetic" k1="0" k2="1" k3="0.5" k4="-0.375" result="v1"/><feTurbulence type="fractalNoise" baseFrequency="0.025" numOctaves="2" seed="620" result="m0"/><feColorMatrix in="m0" type="matrix" values="1 0 0 0 0 0 1 0 0 0 0 0 1 0 0 0 0 0 0 1" result="m"/><feComposite in="v1" in2="m" operator="arithmetic" k1="0" k2="1" k3="0.15" k4="-0.075" result="v"/><feColorMatrix in="v" type="matrix" values="0 0 0 0 1.000 0 0 0 0 0.098 0 0 0 0 0.098 6.5 0 0 0 -3.676" result="d"/><feGaussianBlur in="d" stdDeviation="1.0" result="d3"/><feFlood flood-color="#140000" result="bg"/><feMerge><feMergeNode in="bg"/><feMergeNode in="d3"/></feMerge></filter>
</defs>
<rect width="1500" height="2124" fill="#fff"/>
<rect x="695.2" y="1305.3" width="51.6" height="348.9" fill="#f7fbfd"/>
<rect x="740.6" y="49.0" width="182.0" height="170.8" fill="#000" filter="url(#t1)"/>
<rect x="741.0" y="49.4" width="181.2" height="170.0" fill="none" stroke="#000" stroke-width="1"/>
<path d="M881.4,212.2 H914.0" stroke="#fff" stroke-width="2.4"/>
<rect x="932.2" y="49.0" width="183.0" height="170.8" fill="#000" filter="url(#t2)"/>
<rect x="932.6" y="49.4" width="182.2" height="170.0" fill="none" stroke="#000" stroke-width="1"/>
<path d="M1074.0,212.2 H1106.6" stroke="#fff" stroke-width="2.4"/>
<rect x="1125.0" y="49.0" width="182.0" height="170.8" fill="#000" filter="url(#t3)"/>
<rect x="1125.4" y="49.4" width="181.2" height="170.0" fill="none" stroke="#000" stroke-width="1"/>
<path d="M1265.8,212.2 H1298.4" stroke="#fff" stroke-width="2.4"/>
<rect x="1317.0" y="49.0" width="181.1" height="170.8" fill="#000" filter="url(#t4)"/>
<rect x="1317.4" y="49.4" width="180.3" height="170.0" fill="none" stroke="#000" stroke-width="1"/>
<path d="M1456.9,212.2 H1489.5" stroke="#fff" stroke-width="2.4"/>
<rect x="740.6" y="225.4" width="182.0" height="170.5" fill="#000" filter="url(#t5)"/>
<rect x="741.0" y="225.8" width="181.2" height="169.7" fill="none" stroke="#000" stroke-width="1"/>
<path d="M881.4,388.3 H914.0" stroke="#fff" stroke-width="2.4"/>
<rect x="932.2" y="225.4" width="183.0" height="170.5" fill="#000" filter="url(#t6)"/>
<rect x="932.6" y="225.8" width="182.2" height="169.7" fill="none" stroke="#000" stroke-width="1"/>
<path d="M1074.0,388.3 H1106.6" stroke="#fff" stroke-width="2.4"/>
<rect x="1125.0" y="225.4" width="182.0" height="170.5" fill="#000" filter="url(#t7)"/>
<rect x="1125.4" y="225.8" width="181.2" height="169.7" fill="none" stroke="#000" stroke-width="1"/>
<path d="M1265.8,388.3 H1298.4" stroke="#fff" stroke-width="2.4"/>
<rect x="1317.0" y="225.4" width="181.1" height="170.5" fill="#000" filter="url(#t8)"/>
<rect x="1317.4" y="225.8" width="180.3" height="169.7" fill="none" stroke="#000" stroke-width="1"/>
<path d="M1456.9,388.3 H1489.5" stroke="#fff" stroke-width="2.4"/>
<text x="826.2" y="37.8" font-family="Liberation Sans, sans-serif" font-weight="bold" font-style="italic" font-size="20" text-anchor="middle">0µM</text>
<path d="M806.2,40.9 H845.1" stroke="#000" stroke-width="1.8"/>
<text x="1017.4" y="37.8" font-family="Liberation Sans, sans-serif" font-weight="bold" font-style="italic" font-size="20" text-anchor="middle">25µM</text>
<path d="M991.9,40.9 H1041.8" stroke="#000" stroke-width="1.8"/>
<text x="1209.1" y="37.8" font-family="Liberation Sans, sans-serif" font-weight="bold" font-style="italic" font-size="20" text-anchor="middle">50µM</text>
<path d="M1183.6,40.9 H1233.5" stroke="#000" stroke-width="1.8"/>
<text x="1400.9" y="37.8" font-family="Liberation Sans, sans-serif" font-weight="bold" font-style="italic" font-size="20" text-anchor="middle">100µM</text>
<path d="M1369.8,40.9 H1430.9" stroke="#000" stroke-width="1.8"/>
<text transform="translate(708,135.7) rotate(-90)" font-family="Liberation Sans, sans-serif" font-weight="bold" font-size="19.65" fill="#008000" text-anchor="middle">GFP</text>
<text transform="translate(731.8,132.8) rotate(-90)" font-family="Liberation Sans, sans-serif" font-weight="bold" font-size="20.38" text-anchor="middle">(Tet-responsive)</text>
<text transform="translate(708,313.8) rotate(-90)" font-family="Liberation Sans, sans-serif" font-weight="bold" font-size="19.93" fill="#f00" text-anchor="middle">mCherry</text>
<text transform="translate(731.8,310.5) rotate(-90)" font-family="Liberation Sans, sans-serif" font-weight="bold" font-size="19.96" text-anchor="middle">(non-responsive)</text>
<rect x="747.0" y="471.0" width="181.0" height="167.4" fill="#000" filter="url(#t9)"/>
<rect x="747.4" y="471.4" width="180.2" height="166.6" fill="none" stroke="#000" stroke-width="1"/>
<path d="M886.8,630.8 H919.4" stroke="#fff" stroke-width="2.4"/>
<rect x="937.2" y="471.0" width="181.6" height="167.4" fill="#000" filter="url(#t10)"/>
<rect x="937.6" y="471.4" width="180.8" height="166.6" fill="none" stroke="#000" stroke-width="1"/>
<path d="M1077.6,630.8 H1110.2" stroke="#fff" stroke-width="2.4"/>
<rect x="1128.0" y="471.0" width="180.8" height="167.4" fill="#000" filter="url(#t11)"/>
<rect x="1128.4" y="471.4" width="180.0" height="166.6" fill="none" stroke="#000" stroke-width="1"/>
<path d="M1267.6,630.8 H1300.2" stroke="#fff" stroke-width="2.4"/>
<rect x="1318.4" y="471.0" width="180.4" height="167.4" fill="#000" filter="url(#t12)"/>
<rect x="1318.8" y="471.4" width="179.6" height="166.6" fill="none" stroke="#000" stroke-width="1"/>
<path d="M1457.6,630.8 H1490.2" stroke="#fff" stroke-width="2.4"/>
<rect x="747.0" y="644.0" width="181.0" height="167.2" fill="#000" filter="url(#t13)"/>
<rect x="747.4" y="644.4" width="180.2" height="166.4" fill="none" stroke="#000" stroke-width="1"/>
<path d="M886.8,803.6 H919.4" stroke="#fff" stroke-width="2.4"/>
<rect x="937.2" y="644.0" width="181.6" height="167.2" fill="#000" filter="url(#t14)"/>
<rect x="937.6" y="644.4" width="180.8" height="166.4" fill="none" stroke="#000" stroke-width="1"/>
<path d="M1077.6,803.6 H1110.2" stroke="#fff" stroke-width="2.4"/>
<rect x="1128.0" y="644.0" width="180.8" height="167.2" fill="#000" filter="url(#t15)"/>
<rect x="1128.4" y="644.4" width="180.0" height="166.4" fill="none" stroke="#000" stroke-width="1"/>
<path d="M1267.6,803.6 H1300.2" stroke="#fff" stroke-width="2.4"/>
<rect x="1318.4" y="644.0" width="180.4" height="167.2" fill="#000" filter="url(#t16)"/>
<rect x="1318.4" y="644.0" width="180.4" height="167.2" fill="url(#vig)" opacity="0.4"/>
<rect x="1318.8" y="644.4" width="179.6" height="166.4" fill="none" stroke="#000" stroke-width="1"/>
<path d="M1457.6,803.6 H1490.2" stroke="#fff" stroke-width="2.4"/>
<text x="837.5" y="461" font-family="Liberation Sans, sans-serif" font-weight="bold" font-style="italic" font-size="20" text-anchor="middle">0µM</text>
<path d="M817.5,464.1 H856.4" stroke="#000" stroke-width="1.8"/>
<text x="1028.2" y="461" font-family="Liberation Sans, sans-serif" font-weight="bold" font-style="italic" font-size="20" text-anchor="middle">500µM</text>
<path d="M997.1,464.1 H1058.2" stroke="#000" stroke-width="1.8"/>
<text x="1218" y="461" font-family="Liberation Sans, sans-serif" font-weight="bold" font-style="italic" font-size="20" text-anchor="middle">1000µM</text>
<path d="M1181.4,464.1 H1253.5" stroke="#000" stroke-width="1.8"/>
<text x="1408" y="461" font-family="Liberation Sans, sans-serif" font-weight="bold" font-style="italic" font-size="20" text-anchor="middle">1500µM</text>
<path d="M1371.4,464.1 H1443.5" stroke="#000" stroke-width="1.8"/>
<text transform="translate(714.7,557.6) rotate(-90)" font-family="Liberation Sans, sans-serif" font-weight="bold" font-size="19.65" fill="#008000" text-anchor="middle">GFP</text>
<text transform="translate(738.9,554.7) rotate(-90)" font-family="Liberation Sans, sans-serif" font-weight="bold" font-size="19.66" text-anchor="middle">(Theo-responsive)</text>
<text transform="translate(714.7,730.6) rotate(-90)" font-family="Liberation Sans, sans-serif" font-weight="bold" font-size="19.93" fill="#f00" text-anchor="middle">mCherry</text>
<text transform="translate(738.9,728.7) rotate(-90)" font-family="Liberation Sans, sans-serif" font-weight="bold" font-size="19.96" text-anchor="middle">(non-responsive)</text>
<rect x="744.4" y="888.4" width="181.1" height="169.6" fill="#000" filter="url(#t17)"/>
<rect x="744.4" y="888.4" width="181.1" height="169.6" fill="url(#vig)" opacity="0.6"/>
<rect x="744.8" y="888.8" width="180.3" height="168.8" fill="none" stroke="#000" stroke-width="1"/>
<path d="M884.3,1050.4 H916.9" stroke="#fff" stroke-width="2.4"/>
<rect x="935.2" y="888.4" width="182.0" height="169.6" fill="#000" filter="url(#t18)"/>
<rect x="935.2" y="888.4" width="182.0" height="169.6" fill="url(#vig)" opacity="0.5"/>
<rect x="935.6" y="888.8" width="181.2" height="168.8" fill="none" stroke="#000" stroke-width="1"/>
<path d="M1076.0,1050.4 H1108.6" stroke="#fff" stroke-width="2.4"/>
<rect x="1126.8" y="888.4" width="181.2" height="169.6" fill="#000" filter="url(#t19)"/>
<rect x="1126.8" y="888.4" width="181.2" height="169.6" fill="url(#vig)" opacity="0.85"/>
<rect x="1127.2" y="888.8" width="180.4" height="168.8" fill="none" stroke="#000" stroke-width="1"/>
<path d="M1266.8,1050.4 H1299.4" stroke="#fff" stroke-width="2.4"/>
<rect x="1318.0" y="888.4" width="180.8" height="169.6" fill="#000" filter="url(#t20)"/>
<rect x="1318.4" y="888.8" width="180.0" height="168.8" fill="none" stroke="#000" stroke-width="1"/>
<path d="M1457.6,1050.4 H1490.2" stroke="#fff" stroke-width="2.4"/>
<rect x="744.4" y="1063.2" width="181.1" height="170.0" fill="#000" filter="url(#t21)"/>
<rect x="744.8" y="1063.6" width="180.3" height="169.2" fill="none" stroke="#000" stroke-width="1"/>
<path d="M884.3,1225.6 H916.9" stroke="#fff" stroke-width="2.4"/>
<rect x="935.2" y="1063.2" width="182.0" height="170.0" fill="#000" filter="url(#t22)"/>
<rect x="935.6" y="1063.6" width="181.2" height="169.2" fill="none" stroke="#000" stroke-width="1"/>
<path d="M1076.0,1225.6 H1108.6" stroke="#fff" stroke-width="2.4"/>
<rect x="1126.8" y="1063.2" width="181.2" height="170.0" fill="#000" filter="url(#t23)"/>
<rect x="1127.2" y="1063.6" width="180.4" height="169.2" fill="none" stroke="#000" stroke-width="1"/>
<path d="M1266.8,1225.6 H1299.4" stroke="#fff" stroke-width="2.4"/>
<rect x="1318.0" y="1063.2" width="180.8" height="170.0" fill="#000" filter="url(#t24)"/>
<rect x="1318.0" y="1063.2" width="180.8" height="170.0" fill="url(#vig)" opacity="0.5"/>
<rect x="1318.4" y="1063.6" width="180.0" height="169.2" fill="none" stroke="#000" stroke-width="1"/>
<path d="M1457.6,1225.6 H1490.2" stroke="#fff" stroke-width="2.4"/>
<text x="829.2" y="877.4" font-family="Liberation Sans, sans-serif" font-weight="bold" font-style="italic" font-size="20" text-anchor="middle">0µM</text>
<path d="M809.2,880.5 H848.1" stroke="#000" stroke-width="1.8"/>
<text x="1019.7" y="877.4" font-family="Liberation Sans, sans-serif" font-weight="bold" font-style="italic" font-size="20" text-anchor="middle">25µM</text>
<path d="M994.2,880.5 H1044.1" stroke="#000" stroke-width="1.8"/>
<text x="1210.6" y="877.4" font-family="Liberation Sans, sans-serif" font-weight="bold" font-style="italic" font-size="20" text-anchor="middle">50µM</text>
<path d="M1185.1,880.5 H1235.0" stroke="#000" stroke-width="1.8"/>
<text x="1401.6" y="877.4" font-family="Liberation Sans, sans-serif" font-weight="bold" font-style="italic" font-size="20" text-anchor="middle">100µM</text>
<path d="M1370.5,880.5 H1431.6" stroke="#000" stroke-width="1.8"/>
<text transform="translate(711.5,976.2) rotate(-90)" font-family="Liberation Sans, sans-serif" font-weight="bold" font-size="19.65" fill="#008000" text-anchor="middle">GFP</text>
<text transform="translate(735.5,973.7) rotate(-90)" font-family="Liberation Sans, sans-serif" font-weight="bold" font-size="20.38" text-anchor="middle">(Tet-responsive)</text>
<text transform="translate(711.5,1150.9) rotate(-90)" font-family="Liberation Sans, sans-serif" font-weight="bold" font-size="19.93" fill="#f00" text-anchor="middle">mCherry</text>
<text transform="translate(735.5,1148.6) rotate(-90)" font-family="Liberation Sans, sans-serif" font-weight="bold" font-size="19.96" text-anchor="middle">(non-responsive)</text>
<rect x="749.4" y="1309.8" width="179.8" height="168.2" fill="#000" filter="url(#t25)"/>
<rect x="749.8" y="1310.2" width="179.0" height="167.4" fill="none" stroke="#000" stroke-width="1"/>
<path d="M888.0,1470.4 H920.6" stroke="#fff" stroke-width="2.4"/>
<rect x="938.8" y="1309.8" width="180.8" height="168.2" fill="#000" filter="url(#t26)"/>
<rect x="938.8" y="1309.8" width="180.8" height="168.2" fill="url(#vig)" opacity="0.6"/>
<rect x="939.2" y="1310.2" width="180.0" height="167.4" fill="none" stroke="#000" stroke-width="1"/>
<path d="M1078.4,1470.4 H1111.0" stroke="#fff" stroke-width="2.4"/>
<rect x="1129.2" y="1309.8" width="180.0" height="168.2" fill="#000" filter="url(#t27)"/>
<rect x="1129.6" y="1310.2" width="179.2" height="167.4" fill="none" stroke="#000" stroke-width="1"/>
<path d="M1268.0,1470.4 H1300.6" stroke="#fff" stroke-width="2.4"/>
<rect x="1318.8" y="1309.8" width="180.0" height="168.2" fill="#000" filter="url(#t28)"/>
<rect x="1318.8" y="1309.8" width="180.0" height="168.2" fill="url(#vig)" opacity="0.6"/>
<rect x="1319.2" y="1310.2" width="179.2" height="167.4" fill="none" stroke="#000" stroke-width="1"/>
<path d="M1457.6,1470.4 H1490.2" stroke="#fff" stroke-width="2.4"/>
<rect x="749.4" y="1484.0" width="179.8" height="168.8" fill="#000" filter="url(#t29)"/>
<rect x="749.8" y="1484.4" width="179.0" height="168.0" fill="none" stroke="#000" stroke-width="1"/>
<path d="M888.0,1645.2 H920.6" stroke="#fff" stroke-width="2.4"/>
<rect x="938.8" y="1484.0" width="180.8" height="168.8" fill="#000" filter="url(#t30)"/>
<rect x="939.2" y="1484.4" width="180.0" height="168.0" fill="none" stroke="#000" stroke-width="1"/>
<path d="M1078.4,1645.2 H1111.0" stroke="#fff" stroke-width="2.4"/>
<rect x="1129.2" y="1484.0" width="180.0" height="168.8" fill="#000" filter="url(#t31)"/>
<rect x="1129.6" y="1484.4" width="179.2" height="168.0" fill="none" stroke="#000" stroke-width="1"/>
<path d="M1268.0,1645.2 H1300.6" stroke="#fff" stroke-width="2.4"/>
<rect x="1318.8" y="1484.0" width="180.0" height="168.8" fill="#000" filter="url(#t32)"/>
<rect x="1319.2" y="1484.4" width="179.2" height="168.0" fill="none" stroke="#000" stroke-width="1"/>
<path d="M1457.6,1645.2 H1490.2" stroke="#fff" stroke-width="2.4"/>
<text x="834.2" y="1299.4" font-family="Liberation Sans, sans-serif" font-weight="bold" font-style="italic" font-size="20" text-anchor="middle">0µM</text>
<path d="M814.2,1302.5 H853.1" stroke="#000" stroke-width="1.8"/>
<text x="1022.9" y="1299.4" font-family="Liberation Sans, sans-serif" font-weight="bold" font-style="italic" font-size="20" text-anchor="middle">100µM</text>
<path d="M991.8,1302.5 H1052.9" stroke="#000" stroke-width="1.8"/>
<text x="1212.8" y="1299.4" font-family="Liberation Sans, sans-serif" font-weight="bold" font-style="italic" font-size="20" text-anchor="middle">200µM</text>
<path d="M1181.7,1302.5 H1242.8" stroke="#000" stroke-width="1.8"/>
<text x="1401.8" y="1299.4" font-family="Liberation Sans, sans-serif" font-weight="bold" font-style="italic" font-size="20" text-anchor="middle">500µM</text>
<path d="M1370.7,1302.5 H1431.8" stroke="#000" stroke-width="1.8"/>
<text transform="translate(715.1,1399.5) rotate(-90)" font-family="Liberation Sans, sans-serif" font-weight="bold" font-size="19.65" fill="#008000" text-anchor="middle">GFP</text>
<text transform="translate(738.9,1396.8) rotate(-90)" font-family="Liberation Sans, sans-serif" font-weight="bold" font-size="19.7" text-anchor="middle">(Gua-responsive)</text>
<text transform="translate(715.1,1572.7) rotate(-90)" font-family="Liberation Sans, sans-serif" font-weight="bold" font-size="19.93" fill="#f00" text-anchor="middle">mCherry</text>
<text transform="translate(738.9,1570.8) rotate(-90)" font-family="Liberation Sans, sans-serif" font-weight="bold" font-size="19.96" text-anchor="middle">(non-responsive)</text>
<rect x="748.6" y="1734.0" width="180.1" height="168.0" fill="#000" filter="url(#t33)"/>
<rect x="749.0" y="1734.4" width="179.3" height="167.2" fill="none" stroke="#000" stroke-width="1"/>
<path d="M887.5,1894.4 H920.1" stroke="#fff" stroke-width="2.4"/>
<rect x="938.0" y="1734.0" width="181.2" height="168.0" fill="#000" filter="url(#t34)"/>
<rect x="938.4" y="1734.4" width="180.4" height="167.2" fill="none" stroke="#000" stroke-width="1"/>
<path d="M1078.0,1894.4 H1110.6" stroke="#fff" stroke-width="2.4"/>
<rect x="1128.8" y="1734.0" width="180.4" height="168.0" fill="#000" filter="url(#t35)"/>
<rect x="1129.2" y="1734.4" width="179.6" height="167.2" fill="none" stroke="#000" stroke-width="1"/>
<path d="M1268.0,1894.4 H1300.6" stroke="#fff" stroke-width="2.4"/>
<rect x="1318.8" y="1734.0" width="180.0" height="168.0" fill="#000" filter="url(#t36)"/>
<rect x="1318.8" y="1734.0" width="180.0" height="168.0" fill="url(#vig)" opacity="0.5"/>
<rect x="1319.2" y="1734.4" width="179.2" height="167.2" fill="none" stroke="#000" stroke-width="1"/>
<path d="M1457.6,1894.4 H1490.2" stroke="#fff" stroke-width="2.4"/>
<rect x="748.6" y="1908.0" width="180.1" height="170.0" fill="#000" filter="url(#t37)"/>
<rect x="749.0" y="1908.4" width="179.3" height="169.2" fill="none" stroke="#000" stroke-width="1"/>
<path d="M887.5,2070.4 H920.1" stroke="#fff" stroke-width="2.4"/>
<rect x="938.0" y="1908.0" width="181.2" height="170.0" fill="#000" filter="url(#t38)"/>
<rect x="938.4" y="1908.4" width="180.4" height="169.2" fill="none" stroke="#000" stroke-width="1"/>
<path d="M1078.0,2070.4 H1110.6" stroke="#fff" stroke-width="2.4"/>
<rect x="1128.8" y="1908.0" width="180.4" height="170.0" fill="#000" filter="url(#t39)"/>
<rect x="1129.2" y="1908.4" width="179.6" height="169.2" fill="none" stroke="#000" stroke-width="1"/>
<path d="M1268.0,2070.4 H1300.6" stroke="#fff" stroke-width="2.4"/>
<rect x="1318.8" y="1908.0" width="180.0" height="170.0" fill="#000" filter="url(#t40)"/>
<rect x="1319.2" y="1908.4" width="179.2" height="169.2" fill="none" stroke="#000" stroke-width="1"/>
<path d="M1457.6,2070.4 H1490.2" stroke="#fff" stroke-width="2.4"/>
<text x="834.7" y="1724.2" font-family="Liberation Sans, sans-serif" font-weight="bold" font-style="italic" font-size="20" text-anchor="middle">0µM</text>
<path d="M814.7,1727.3 H853.6" stroke="#000" stroke-width="1.8"/>
<text x="1024.7" y="1724.2" font-family="Liberation Sans, sans-serif" font-weight="bold" font-style="italic" font-size="20" text-anchor="middle">25µM</text>
<path d="M999.2,1727.3 H1049.1" stroke="#000" stroke-width="1.8"/>
<text x="1214.6" y="1724.2" font-family="Liberation Sans, sans-serif" font-weight="bold" font-style="italic" font-size="20" text-anchor="middle">50µM</text>
<path d="M1189.1,1727.3 H1239.0" stroke="#000" stroke-width="1.8"/>
<text x="1404.1" y="1724.2" font-family="Liberation Sans, sans-serif" font-weight="bold" font-style="italic" font-size="20" text-anchor="middle">100µM</text>
<path d="M1373.0,1727.3 H1434.1" stroke="#000" stroke-width="1.8"/>
<text transform="translate(716,1822) rotate(-90)" font-family="Liberation Sans, sans-serif" font-weight="bold" font-size="19.65" fill="#008000" text-anchor="middle">GFP</text>
<text transform="translate(739.7,1821.7) rotate(-90)" font-family="Liberation Sans, sans-serif" font-weight="bold" font-size="20.38" text-anchor="middle">(Tet-responsive)</text>
<text transform="translate(716,1996.3) rotate(-90)" font-family="Liberation Sans, sans-serif" font-weight="bold" font-size="19.93" fill="#f00" text-anchor="middle">mCherry</text>
<text transform="translate(739.7,1994.3) rotate(-90)" font-family="Liberation Sans, sans-serif" font-weight="bold" font-size="19.96" text-anchor="middle">(non-responsive)</text>
<circle cx="23.1" cy="23.1" r="20.85" fill="none" stroke="#000" stroke-width="1.6"/>
<text transform="translate(23.1,34.5) scale(1.08,1)" font-family="Liberation Sans, sans-serif" font-weight="bold" font-size="33" text-anchor="middle">A</text>
<path d="M138.5,27.450000000000003 V365.0" stroke="#000" stroke-width="5" fill="none"/>
<path d="M136.0,362.5 H640.0" stroke="#000" stroke-width="5" fill="none"/>
<path d="M125.7,362.5 H138.5" stroke="#000" stroke-width="5"/>
<text transform="translate(124.1,371.8) scale(0.98,1)" font-family="Liberation Sans, sans-serif" font-weight="bold" font-size="26" text-anchor="end">40</text>
<path d="M125.7,295.97 H138.5" stroke="#000" stroke-width="5"/>
<text transform="translate(124.1,305.27000000000004) scale(0.98,1)" font-family="Liberation Sans, sans-serif" font-weight="bold" font-size="26" text-anchor="end">50</text>
<path d="M125.7,229.44 H138.5" stroke="#000" stroke-width="5"/>
<text transform="translate(124.1,238.74) scale(0.98,1)" font-family="Liberation Sans, sans-serif" font-weight="bold" font-size="26" text-anchor="end">60</text>
<path d="M125.7,162.91000000000003 H138.5" stroke="#000" stroke-width="5"/>
<text transform="translate(124.1,172.21000000000004) scale(0.98,1)" font-family="Liberation Sans, sans-serif" font-weight="bold" font-size="26" text-anchor="end">70</text>
<path d="M125.7,96.38 H138.5" stroke="#000" stroke-width="5"/>
<text transform="translate(124.1,105.67999999999999) scale(0.98,1)" font-family="Liberation Sans, sans-serif" font-weight="bold" font-size="26" text-anchor="end">80</text>
<path d="M125.7,29.850000000000023 H138.5" stroke="#000" stroke-width="5"/>
<text transform="translate(124.1,39.15000000000002) scale(0.98,1)" font-family="Liberation Sans, sans-serif" font-weight="bold" font-size="26" text-anchor="end">90</text>
<path d="M138.5,362.5 V375.9" stroke="#000" stroke-width="5"/>
<text transform="translate(138.5,399.5) scale(0.98,1)" font-family="Liberation Sans, sans-serif" font-weight="bold" font-size="26" text-anchor="middle">0</text>
<path d="M263.25,362.5 V375.9" stroke="#000" stroke-width="5"/>
<text transform="translate(263.25,399.5) scale(0.98,1)" font-family="Liberation Sans, sans-serif" font-weight="bold" font-size="26" text-anchor="middle">25</text>
<path d="M388.0,362.5 V375.9" stroke="#000" stroke-width="5"/>
<text transform="translate(388.0,399.5) scale(0.98,1)" font-family="Liberation Sans, sans-serif" font-weight="bold" font-size="26" text-anchor="middle">50</text>
<path d="M512.75,362.5 V375.9" stroke="#000" stroke-width="5"/>
<text transform="translate(512.75,399.5) scale(0.98,1)" font-family="Liberation Sans, sans-serif" font-weight="bold" font-size="26" text-anchor="middle">75</text>
<path d="M637.5,362.5 V375.9" stroke="#000" stroke-width="5"/>
<text transform="translate(637.5,399.5) scale(0.98,1)" font-family="Liberation Sans, sans-serif" font-weight="bold" font-size="26" text-anchor="middle">100</text>
<text transform="translate(388.0,433.0) scale(0.94,1)" font-family="Liberation Sans, sans-serif" font-weight="bold" font-size="26" text-anchor="middle">Tetracycline (<tspan font-weight="normal">µ</tspan>M)</text>
<text transform="translate(86.2,196.175) rotate(-90) scale(0.944,1)" font-family="Liberation Sans, sans-serif" font-weight="bold" font-size="26" text-anchor="middle">Normalized Fluorescence (%)</text>
<path d="M138.50,235.39 L138.75,235.39 L139.00,235.39 L139.25,235.39 L139.50,235.38 L139.75,235.38 L140.00,235.37 L140.25,235.36 L140.50,235.35 L140.75,235.34 L141.00,235.33 L141.25,235.32 L141.50,235.31 L142.00,235.28 L144.00,235.13 L146.00,234.91 L147.99,234.65 L149.99,234.32 L151.99,233.95 L153.99,233.52 L155.99,233.04 L157.98,232.52 L159.98,231.94 L161.98,231.33 L163.98,230.67 L165.98,229.97 L167.97,229.22 L169.97,228.44 L171.97,227.63 L173.97,226.78 L175.97,225.89 L177.96,224.97 L179.96,224.02 L181.96,223.05 L183.96,222.04 L185.96,221.01 L187.95,219.96 L189.95,218.88 L191.95,217.78 L193.95,216.67 L195.95,215.53 L197.94,214.38 L199.94,213.21 L201.94,212.03 L203.94,210.83 L205.94,209.63 L207.93,208.41 L209.93,207.19 L211.93,205.96 L213.93,204.72 L215.93,203.47 L217.92,202.23 L219.92,200.98 L221.92,199.72 L223.92,198.47 L225.92,197.21 L227.91,195.96 L229.91,194.71 L231.91,193.45 L233.91,192.21 L235.91,190.96 L237.90,189.72 L239.90,188.49 L241.90,187.26 L243.90,186.03 L245.90,184.82 L247.89,183.61 L249.89,182.40 L251.89,181.21 L253.89,180.02 L255.89,178.84 L257.88,177.68 L259.88,176.52 L261.88,175.37 L263.88,174.23 L265.88,173.10 L267.87,171.98 L269.87,170.87 L271.87,169.78 L273.87,168.69 L275.86,167.61 L277.86,166.55 L279.86,165.50 L281.86,164.46 L283.86,163.43 L285.85,162.41 L287.85,161.40 L289.85,160.41 L291.85,159.43 L293.85,158.46 L295.84,157.50 L297.84,156.55 L299.84,155.61 L301.84,154.69 L303.84,153.78 L305.83,152.88 L307.83,151.99 L309.83,151.11 L311.83,150.24 L313.83,149.38 L315.82,148.54 L317.82,147.71 L319.82,146.89 L321.82,146.07 L323.82,145.27 L325.81,144.48 L327.81,143.71 L329.81,142.94 L331.81,142.18 L333.81,141.43 L335.80,140.69 L337.80,139.97 L339.80,139.25 L341.80,138.54 L343.80,137.85 L345.79,137.16 L347.79,136.48 L349.79,135.81 L351.79,135.15 L353.79,134.50 L355.78,133.86 L357.78,133.23 L359.78,132.61 L361.78,131.99 L363.78,131.38 L365.77,130.79 L367.77,130.20 L369.77,129.62 L371.77,129.04 L373.77,128.48 L375.76,127.92 L377.76,127.37 L379.76,126.83 L381.76,126.30 L383.76,125.77 L385.75,125.25 L387.75,124.74 L389.75,124.24 L391.75,123.74 L393.75,123.25 L395.74,122.76 L397.74,122.29 L399.74,121.81 L401.74,121.35 L403.74,120.89 L405.73,120.44 L407.73,120.00 L409.73,119.56 L411.73,119.12 L413.73,118.70 L415.72,118.27 L417.72,117.86 L419.72,117.45 L421.72,117.04 L423.72,116.65 L425.71,116.25 L427.71,115.86 L429.71,115.48 L431.71,115.10 L433.71,114.73 L435.70,114.36 L437.70,114.00 L439.70,113.64 L441.70,113.29 L443.70,112.94 L445.69,112.59 L447.69,112.25 L449.69,111.92 L451.69,111.59 L453.69,111.26 L455.68,110.94 L457.68,110.62 L459.68,110.31 L461.68,110.00 L463.68,109.69 L465.67,109.39 L467.67,109.09 L469.67,108.80 L471.67,108.51 L473.67,108.22 L475.66,107.94 L477.66,107.66 L479.66,107.38 L481.66,107.11 L483.66,106.84 L485.65,106.57 L487.65,106.31 L489.65,106.05 L491.65,105.80 L493.65,105.54 L495.64,105.29 L497.64,105.05 L499.64,104.80 L501.64,104.56 L503.64,104.32 L505.63,104.09 L507.63,103.86 L509.63,103.63 L511.63,103.40 L513.62,103.18 L515.62,102.96 L517.62,102.74 L519.62,102.52 L521.62,102.31 L523.61,102.10 L525.61,101.89 L527.61,101.68 L529.61,101.48 L531.61,101.28 L533.60,101.08 L535.60,100.89 L537.60,100.69 L539.60,100.50 L541.60,100.31 L543.59,100.12 L545.59,99.94 L547.59,99.75 L549.59,99.57 L551.59,99.39 L553.58,99.22 L555.58,99.04 L557.58,98.87 L559.58,98.70 L561.58,98.53 L563.57,98.36 L565.57,98.20 L567.57,98.03 L569.57,97.87 L571.57,97.71 L573.56,97.55 L575.56,97.40 L577.56,97.24 L579.56,97.09 L581.56,96.94 L583.55,96.79 L585.55,96.64 L587.55,96.49 L589.55,96.35 L591.55,96.20 L593.54,96.06 L595.54,95.92 L597.54,95.78 L599.54,95.64 L601.54,95.51 L603.53,95.37 L605.53,95.24 L607.53,95.11 L609.53,94.98 L611.53,94.85 L613.52,94.72 L615.52,94.59 L617.52,94.47 L619.52,94.35 L621.52,94.22 L623.51,94.10 L625.51,93.98 L627.51,93.86 L629.51,93.74 L631.51,93.63 L633.50,93.51 L635.50,93.40 L637.50,93.29" stroke="#00c000" stroke-width="5.2" fill="none" stroke-linejoin="round" stroke-linecap="round"/>
<path d="M138.5,229.44000000000003 V244.0766 M131.8,229.44000000000003 H145.2 M131.8,244.0766 H145.2" stroke="#00c000" stroke-width="3.3" stroke-linecap="round" fill="none"/>
<circle cx="138.5" cy="236.75830000000002" r="6.5" fill="#00c000"/>
<path d="M263.25,163.5753 V188.85670000000002 M256.55,163.5753 H269.95 M256.55,188.85670000000002 H269.95" stroke="#00c000" stroke-width="3.3" stroke-linecap="round" fill="none"/>
<circle cx="263.25" cy="176.216" r="6.5" fill="#00c000"/>
<path d="M388.0,105.36155000000002 V143.94895000000002 M381.3,105.36155000000002 H394.7 M381.3,143.94895000000002 H394.7" stroke="#00c000" stroke-width="3.3" stroke-linecap="round" fill="none"/>
<circle cx="388.0" cy="124.65525000000002" r="6.5" fill="#00c000"/>
<path d="M637.5,69.10269999999998 V118.33489999999999 M630.8,69.10269999999998 H644.2 M630.8,118.33489999999999 H644.2" stroke="#00c000" stroke-width="3.3" stroke-linecap="round" fill="none"/>
<circle cx="637.5" cy="93.71879999999999" r="6.5" fill="#00c000"/>
<text x="388.9" y="110.4" font-family="Liberation Sans, sans-serif" font-weight="bold" font-size="31.5" text-anchor="middle">**</text>
<text x="638.9" y="75.2" font-family="Liberation Sans, sans-serif" font-weight="bold" font-size="31.5" text-anchor="middle">***</text>
<path d="M659.2,117.9 V213.3" stroke="#000" stroke-width="5.1"/>
<path d="M659.2,94.4 L669.8000000000001,118.9 L648.6,118.9 Z M659.2,236.8 L669.8000000000001,212.3 L648.6,212.3 Z" fill="#000"/>
<text transform="translate(644,176.5) scale(0.947,1)" font-family="Liberation Sans, sans-serif" font-weight="bold" font-size="33" text-anchor="end">1.5x</text>
<circle cx="23.1" cy="443.4" r="20.85" fill="none" stroke="#000" stroke-width="1.6"/>
<text transform="translate(23.1,454.79999999999995) scale(0.945,1)" font-family="Liberation Sans, sans-serif" font-weight="bold" font-size="33" text-anchor="middle">B</text>
<path d="M137.7,448.0 V785.9" stroke="#000" stroke-width="5" fill="none"/>
<path d="M135.2,783.4 H639.9" stroke="#000" stroke-width="5" fill="none"/>
<path d="M124.89999999999999,783.4 H137.7" stroke="#000" stroke-width="5"/>
<text transform="translate(123.29999999999998,792.6999999999999) scale(0.98,1)" font-family="Liberation Sans, sans-serif" font-weight="bold" font-size="26" text-anchor="end">20</text>
<path d="M124.89999999999999,716.8 H137.7" stroke="#000" stroke-width="5"/>
<text transform="translate(123.29999999999998,726.0999999999999) scale(0.98,1)" font-family="Liberation Sans, sans-serif" font-weight="bold" font-size="26" text-anchor="end">30</text>
<path d="M124.89999999999999,650.1999999999999 H137.7" stroke="#000" stroke-width="5"/>
<text transform="translate(123.29999999999998,659.4999999999999) scale(0.98,1)" font-family="Liberation Sans, sans-serif" font-weight="bold" font-size="26" text-anchor="end">40</text>
<path d="M124.89999999999999,583.6 H137.7" stroke="#000" stroke-width="5"/>
<text transform="translate(123.29999999999998,592.9) scale(0.98,1)" font-family="Liberation Sans, sans-serif" font-weight="bold" font-size="26" text-anchor="end">50</text>
<path d="M124.89999999999999,517.0 H137.7" stroke="#000" stroke-width="5"/>
<text transform="translate(123.29999999999998,526.3) scale(0.98,1)" font-family="Liberation Sans, sans-serif" font-weight="bold" font-size="26" text-anchor="end">60</text>
<path d="M124.89999999999999,450.4 H137.7" stroke="#000" stroke-width="5"/>
<text transform="translate(123.29999999999998,459.7) scale(0.98,1)" font-family="Liberation Sans, sans-serif" font-weight="bold" font-size="26" text-anchor="end">70</text>
<path d="M137.7,783.4 V796.8" stroke="#000" stroke-width="5"/>
<text transform="translate(137.7,820.4) scale(0.98,1)" font-family="Liberation Sans, sans-serif" font-weight="bold" font-size="26" text-anchor="middle">0</text>
<path d="M220.98333333333332,783.4 V796.8" stroke="#000" stroke-width="5"/>
<text transform="translate(220.98333333333332,820.4) scale(0.98,1)" font-family="Liberation Sans, sans-serif" font-weight="bold" font-size="26" text-anchor="middle">250</text>
<path d="M304.26666666666665,783.4 V796.8" stroke="#000" stroke-width="5"/>
<text transform="translate(304.26666666666665,820.4) scale(0.98,1)" font-family="Liberation Sans, sans-serif" font-weight="bold" font-size="26" text-anchor="middle">500</text>
<path d="M387.54999999999995,783.4 V796.8" stroke="#000" stroke-width="5"/>
<text transform="translate(387.54999999999995,820.4) scale(0.98,1)" font-family="Liberation Sans, sans-serif" font-weight="bold" font-size="26" text-anchor="middle">750</text>
<path d="M470.8333333333333,783.4 V796.8" stroke="#000" stroke-width="5"/>
<text transform="translate(470.8333333333333,820.4) scale(0.98,1)" font-family="Liberation Sans, sans-serif" font-weight="bold" font-size="26" text-anchor="middle">1000</text>
<path d="M554.1166666666667,783.4 V796.8" stroke="#000" stroke-width="5"/>
<text transform="translate(554.1166666666667,820.4) scale(0.98,1)" font-family="Liberation Sans, sans-serif" font-weight="bold" font-size="26" text-anchor="middle">1250</text>
<path d="M637.4,783.4 V796.8" stroke="#000" stroke-width="5"/>
<text transform="translate(637.4,820.4) scale(0.98,1)" font-family="Liberation Sans, sans-serif" font-weight="bold" font-size="26" text-anchor="middle">1500</text>
<text transform="translate(387.54999999999995,853.9) scale(0.94,1)" font-family="Liberation Sans, sans-serif" font-weight="bold" font-size="26" text-anchor="middle">Theophylline (<tspan font-weight="normal">µ</tspan>M)</text>
<text transform="translate(77.5,616.9) rotate(-90) scale(0.944,1)" font-family="Liberation Sans, sans-serif" font-weight="bold" font-size="26" text-anchor="middle">Normalized Fluorescence (%)</text>
<path d="M137.70,685.47 L137.95,675.88 L138.20,673.14 L138.45,671.18 L138.70,669.61 L138.95,668.27 L139.20,667.09 L139.45,666.04 L139.70,665.07 L139.95,664.18 L140.20,663.35 L140.45,662.57 L140.70,661.84 L141.20,660.48 L143.20,656.02 L145.20,652.51 L147.20,649.56 L149.20,646.98 L151.20,644.67 L153.20,642.57 L155.21,640.64 L157.21,638.84 L159.21,637.16 L161.21,635.57 L163.21,634.07 L165.21,632.64 L167.21,631.28 L169.21,629.98 L171.21,628.72 L173.21,627.51 L175.21,626.35 L177.21,625.22 L179.22,624.13 L181.22,623.08 L183.22,622.05 L185.22,621.05 L187.22,620.08 L189.22,619.13 L191.22,618.21 L193.22,617.31 L195.22,616.43 L197.22,615.56 L199.22,614.72 L201.22,613.89 L203.22,613.08 L205.23,612.29 L207.23,611.51 L209.23,610.74 L211.23,609.99 L213.23,609.25 L215.23,608.53 L217.23,607.81 L219.23,607.11 L221.23,606.41 L223.23,605.73 L225.23,605.06 L227.23,604.40 L229.24,603.74 L231.24,603.10 L233.24,602.47 L235.24,601.84 L237.24,601.22 L239.24,600.61 L241.24,600.01 L243.24,599.41 L245.24,598.82 L247.24,598.24 L249.24,597.66 L251.24,597.10 L253.25,596.53 L255.25,595.98 L257.25,595.43 L259.25,594.88 L261.25,594.35 L263.25,593.81 L265.25,593.29 L267.25,592.76 L269.25,592.25 L271.25,591.73 L273.25,591.23 L275.25,590.72 L277.25,590.23 L279.26,589.73 L281.26,589.24 L283.26,588.76 L285.26,588.28 L287.26,587.80 L289.26,587.33 L291.26,586.86 L293.26,586.40 L295.26,585.94 L297.26,585.48 L299.26,585.03 L301.26,584.58 L303.27,584.13 L305.27,583.69 L307.27,583.25 L309.27,582.81 L311.27,582.38 L313.27,581.95 L315.27,581.52 L317.27,581.10 L319.27,580.68 L321.27,580.26 L323.27,579.84 L325.27,579.43 L327.27,579.02 L329.28,578.62 L331.28,578.21 L333.28,577.81 L335.28,577.41 L337.28,577.02 L339.28,576.62 L341.28,576.23 L343.28,575.85 L345.28,575.46 L347.28,575.08 L349.28,574.69 L351.28,574.31 L353.29,573.94 L355.29,573.56 L357.29,573.19 L359.29,572.82 L361.29,572.45 L363.29,572.09 L365.29,571.72 L367.29,571.36 L369.29,571.00 L371.29,570.64 L373.29,570.29 L375.29,569.93 L377.30,569.58 L379.30,569.23 L381.30,568.88 L383.30,568.53 L385.30,568.19 L387.30,567.85 L389.30,567.51 L391.30,567.17 L393.30,566.83 L395.30,566.49 L397.30,566.16 L399.30,565.82 L401.30,565.49 L403.31,565.16 L405.31,564.83 L407.31,564.51 L409.31,564.18 L411.31,563.86 L413.31,563.54 L415.31,563.22 L417.31,562.90 L419.31,562.58 L421.31,562.26 L423.31,561.95 L425.31,561.64 L427.32,561.32 L429.32,561.01 L431.32,560.70 L433.32,560.40 L435.32,560.09 L437.32,559.78 L439.32,559.48 L441.32,559.18 L443.32,558.87 L445.32,558.57 L447.32,558.28 L449.32,557.98 L451.32,557.68 L453.33,557.39 L455.33,557.09 L457.33,556.80 L459.33,556.51 L461.33,556.22 L463.33,555.93 L465.33,555.64 L467.33,555.35 L469.33,555.07 L471.33,554.78 L473.33,554.50 L475.33,554.21 L477.34,553.93 L479.34,553.65 L481.34,553.37 L483.34,553.09 L485.34,552.81 L487.34,552.54 L489.34,552.26 L491.34,551.99 L493.34,551.71 L495.34,551.44 L497.34,551.17 L499.34,550.90 L501.35,550.63 L503.35,550.36 L505.35,550.09 L507.35,549.83 L509.35,549.56 L511.35,549.29 L513.35,549.03 L515.35,548.77 L517.35,548.50 L519.35,548.24 L521.35,547.98 L523.35,547.72 L525.35,547.46 L527.36,547.21 L529.36,546.95 L531.36,546.69 L533.36,546.44 L535.36,546.18 L537.36,545.93 L539.36,545.67 L541.36,545.42 L543.36,545.17 L545.36,544.92 L547.36,544.67 L549.36,544.42 L551.37,544.17 L553.37,543.92 L555.37,543.68 L557.37,543.43 L559.37,543.19 L561.37,542.94 L563.37,542.70 L565.37,542.45 L567.37,542.21 L569.37,541.97 L571.37,541.73 L573.37,541.49 L575.38,541.25 L577.38,541.01 L579.38,540.77 L581.38,540.53 L583.38,540.30 L585.38,540.06 L587.38,539.82 L589.38,539.59 L591.38,539.36 L593.38,539.12 L595.38,538.89 L597.38,538.66 L599.38,538.42 L601.39,538.19 L603.39,537.96 L605.39,537.73 L607.39,537.50 L609.39,537.28 L611.39,537.05 L613.39,536.82 L615.39,536.59 L617.39,536.37 L619.39,536.14 L621.39,535.92 L623.39,535.69 L625.40,535.47 L627.40,535.25 L629.40,535.02 L631.40,534.80 L633.40,534.58 L635.40,534.36 L637.40,534.14" stroke="#00c000" stroke-width="5.2" fill="none" stroke-linejoin="round" stroke-linecap="round"/>
<circle cx="137.7" cy="686.164" r="6.5" fill="#00c000"/>
<circle cx="304.26666666666665" cy="584.266" r="6.5" fill="#00c000"/>
<circle cx="470.8333333333333" cy="556.294" r="6.5" fill="#00c000"/>
<circle cx="637.4" cy="533.65" r="6.5" fill="#00c000"/>
<text x="306" y="584.8" font-family="Liberation Sans, sans-serif" font-weight="bold" font-size="31.5" text-anchor="middle">***</text>
<text x="472.3" y="557.8" font-family="Liberation Sans, sans-serif" font-weight="bold" font-size="31.5" text-anchor="middle">***</text>
<text x="639.1" y="535.8" font-family="Liberation Sans, sans-serif" font-weight="bold" font-size="31.5" text-anchor="middle">***</text>
<path d="M655.6,560.1 V665.5" stroke="#000" stroke-width="5.1"/>
<path d="M655.6,536.6 L666.2,561.1 L645.0,561.1 Z M655.6,689 L666.2,664.5 L645.0,664.5 Z" fill="#000"/>
<text transform="translate(641,624) scale(0.947,1)" font-family="Liberation Sans, sans-serif" font-weight="bold" font-size="33" text-anchor="end">1.7x</text>
<circle cx="23.1" cy="864.2" r="20.85" fill="none" stroke="#000" stroke-width="1.6"/>
<text transform="translate(23.1,875.6) scale(0.93,1)" font-family="Liberation Sans, sans-serif" font-weight="bold" font-size="33" text-anchor="middle">C</text>
<path d="M138.55,868.8000000000001 V1206.0" stroke="#000" stroke-width="5" fill="none"/>
<path d="M136.05,1203.5 H639.9" stroke="#000" stroke-width="5" fill="none"/>
<path d="M125.75000000000001,1203.5 H138.55" stroke="#000" stroke-width="5"/>
<text transform="translate(124.15,1212.8) scale(0.98,1)" font-family="Liberation Sans, sans-serif" font-weight="bold" font-size="26" text-anchor="end">0</text>
<path d="M125.75000000000001,1137.04 H138.55" stroke="#000" stroke-width="5"/>
<text transform="translate(124.15,1146.34) scale(0.98,1)" font-family="Liberation Sans, sans-serif" font-weight="bold" font-size="26" text-anchor="end">10</text>
<path d="M125.75000000000001,1070.58 H138.55" stroke="#000" stroke-width="5"/>
<text transform="translate(124.15,1079.8799999999999) scale(0.98,1)" font-family="Liberation Sans, sans-serif" font-weight="bold" font-size="26" text-anchor="end">20</text>
<path d="M125.75000000000001,1004.12 H138.55" stroke="#000" stroke-width="5"/>
<text transform="translate(124.15,1013.42) scale(0.98,1)" font-family="Liberation Sans, sans-serif" font-weight="bold" font-size="26" text-anchor="end">30</text>
<path d="M125.75000000000001,937.6600000000001 H138.55" stroke="#000" stroke-width="5"/>
<text transform="translate(124.15,946.96) scale(0.98,1)" font-family="Liberation Sans, sans-serif" font-weight="bold" font-size="26" text-anchor="end">40</text>
<path d="M125.75000000000001,871.2 H138.55" stroke="#000" stroke-width="5"/>
<text transform="translate(124.15,880.5) scale(0.98,1)" font-family="Liberation Sans, sans-serif" font-weight="bold" font-size="26" text-anchor="end">50</text>
<path d="M138.55,1203.5 V1216.9" stroke="#000" stroke-width="5"/>
<text transform="translate(138.55,1240.5) scale(0.98,1)" font-family="Liberation Sans, sans-serif" font-weight="bold" font-size="26" text-anchor="middle">0</text>
<path d="M263.2625,1203.5 V1216.9" stroke="#000" stroke-width="5"/>
<text transform="translate(263.2625,1240.5) scale(0.98,1)" font-family="Liberation Sans, sans-serif" font-weight="bold" font-size="26" text-anchor="middle">25</text>
<path d="M387.975,1203.5 V1216.9" stroke="#000" stroke-width="5"/>
<text transform="translate(387.975,1240.5) scale(0.98,1)" font-family="Liberation Sans, sans-serif" font-weight="bold" font-size="26" text-anchor="middle">50</text>
<path d="M512.6875,1203.5 V1216.9" stroke="#000" stroke-width="5"/>
<text transform="translate(512.6875,1240.5) scale(0.98,1)" font-family="Liberation Sans, sans-serif" font-weight="bold" font-size="26" text-anchor="middle">75</text>
<path d="M637.4,1203.5 V1216.9" stroke="#000" stroke-width="5"/>
<text transform="translate(637.4,1240.5) scale(0.98,1)" font-family="Liberation Sans, sans-serif" font-weight="bold" font-size="26" text-anchor="middle">100</text>
<text transform="translate(387.975,1274.0) scale(0.94,1)" font-family="Liberation Sans, sans-serif" font-weight="bold" font-size="26" text-anchor="middle">Tetracycline (µM)</text>
<text transform="translate(86.3,1037.35) rotate(-90) scale(0.944,1)" font-family="Liberation Sans, sans-serif" font-weight="bold" font-size="26" text-anchor="middle">Normalized Fluorescence (%)</text>
<path d="M138.55,1119.41 L138.80,1119.41 L139.05,1119.41 L139.30,1119.41 L139.55,1119.41 L139.80,1119.41 L140.05,1119.41 L140.30,1119.41 L140.55,1119.41 L140.80,1119.40 L141.05,1119.40 L141.30,1119.40 L141.55,1119.40 L142.05,1119.39 L144.05,1119.35 L146.04,1119.30 L148.04,1119.22 L150.04,1119.12 L152.04,1119.00 L154.03,1118.86 L156.03,1118.69 L158.03,1118.50 L160.03,1118.29 L162.02,1118.06 L164.02,1117.80 L166.02,1117.52 L168.02,1117.21 L170.01,1116.88 L172.01,1116.52 L174.01,1116.14 L176.01,1115.74 L178.00,1115.32 L180.00,1114.86 L182.00,1114.39 L183.99,1113.89 L185.99,1113.37 L187.99,1112.83 L189.99,1112.26 L191.98,1111.67 L193.98,1111.05 L195.98,1110.42 L197.98,1109.76 L199.97,1109.08 L201.97,1108.38 L203.97,1107.66 L205.97,1106.92 L207.96,1106.16 L209.96,1105.38 L211.96,1104.58 L213.96,1103.76 L215.95,1102.92 L217.95,1102.06 L219.95,1101.19 L221.95,1100.30 L223.94,1099.39 L225.94,1098.47 L227.94,1097.53 L229.93,1096.57 L231.93,1095.60 L233.93,1094.62 L235.93,1093.62 L237.92,1092.61 L239.92,1091.59 L241.92,1090.55 L243.92,1089.51 L245.91,1088.45 L247.91,1087.38 L249.91,1086.30 L251.91,1085.22 L253.90,1084.12 L255.90,1083.01 L257.90,1081.90 L259.90,1080.78 L261.89,1079.65 L263.89,1078.52 L265.89,1077.38 L267.88,1076.23 L269.88,1075.08 L271.88,1073.92 L273.88,1072.76 L275.87,1071.60 L277.87,1070.43 L279.87,1069.26 L281.87,1068.09 L283.86,1066.92 L285.86,1065.74 L287.86,1064.56 L289.86,1063.38 L291.85,1062.21 L293.85,1061.03 L295.85,1059.85 L297.85,1058.67 L299.84,1057.49 L301.84,1056.32 L303.84,1055.14 L305.84,1053.97 L307.83,1052.80 L309.83,1051.63 L311.83,1050.47 L313.82,1049.31 L315.82,1048.15 L317.82,1047.00 L319.82,1045.84 L321.81,1044.70 L323.81,1043.56 L325.81,1042.42 L327.81,1041.28 L329.80,1040.16 L331.80,1039.03 L333.80,1037.92 L335.80,1036.80 L337.79,1035.70 L339.79,1034.60 L341.79,1033.50 L343.79,1032.41 L345.78,1031.33 L347.78,1030.26 L349.78,1029.19 L351.77,1028.12 L353.77,1027.07 L355.77,1026.02 L357.77,1024.98 L359.76,1023.94 L361.76,1022.91 L363.76,1021.89 L365.76,1020.88 L367.75,1019.87 L369.75,1018.87 L371.75,1017.88 L373.75,1016.90 L375.74,1015.92 L377.74,1014.95 L379.74,1013.99 L381.74,1013.04 L383.73,1012.09 L385.73,1011.15 L387.73,1010.22 L389.73,1009.30 L391.72,1008.38 L393.72,1007.48 L395.72,1006.58 L397.71,1005.68 L399.71,1004.80 L401.71,1003.92 L403.71,1003.06 L405.70,1002.19 L407.70,1001.34 L409.70,1000.50 L411.70,999.66 L413.69,998.83 L415.69,998.00 L417.69,997.19 L419.69,996.38 L421.68,995.58 L423.68,994.79 L425.68,994.00 L427.68,993.23 L429.67,992.45 L431.67,991.69 L433.67,990.94 L435.66,990.19 L437.66,989.45 L439.66,988.71 L441.66,987.99 L443.65,987.27 L445.65,986.55 L447.65,985.85 L449.65,985.15 L451.64,984.46 L453.64,983.77 L455.64,983.09 L457.64,982.42 L459.63,981.76 L461.63,981.10 L463.63,980.45 L465.63,979.80 L467.62,979.16 L469.62,978.53 L471.62,977.90 L473.61,977.28 L475.61,976.67 L477.61,976.06 L479.61,975.46 L481.60,974.87 L483.60,974.28 L485.60,973.70 L487.60,973.12 L489.59,972.55 L491.59,971.98 L493.59,971.42 L495.59,970.87 L497.58,970.32 L499.58,969.78 L501.58,969.24 L503.58,968.71 L505.57,968.18 L507.57,967.66 L509.57,967.15 L511.57,966.64 L513.56,966.13 L515.56,965.63 L517.56,965.14 L519.55,964.65 L521.55,964.16 L523.55,963.68 L525.55,963.21 L527.54,962.74 L529.54,962.27 L531.54,961.81 L533.54,961.36 L535.53,960.90 L537.53,960.46 L539.53,960.02 L541.53,959.58 L543.52,959.14 L545.52,958.72 L547.52,958.29 L549.52,957.87 L551.51,957.46 L553.51,957.04 L555.51,956.64 L557.50,956.23 L559.50,955.83 L561.50,955.44 L563.50,955.05 L565.49,954.66 L567.49,954.28 L569.49,953.90 L571.49,953.52 L573.48,953.15 L575.48,952.78 L577.48,952.41 L579.48,952.05 L581.47,951.70 L583.47,951.34 L585.47,950.99 L587.47,950.64 L589.46,950.30 L591.46,949.96 L593.46,949.62 L595.46,949.29 L597.45,948.96 L599.45,948.63 L601.45,948.31 L603.44,947.99 L605.44,947.67 L607.44,947.36 L609.44,947.05 L611.43,946.74 L613.43,946.43 L615.43,946.13 L617.43,945.83 L619.42,945.54 L621.42,945.24 L623.42,944.95 L625.42,944.66 L627.41,944.38 L629.41,944.10 L631.41,943.82 L633.41,943.54 L635.40,943.26 L637.40,942.99" stroke="#00c000" stroke-width="5.2" fill="none" stroke-linejoin="round" stroke-linecap="round"/>
<path d="M138.55,1113.1144 V1127.7356 M131.85000000000002,1113.1144 H145.25 M131.85000000000002,1127.7356 H145.25" stroke="#00c000" stroke-width="3.3" stroke-linecap="round" fill="none"/>
<circle cx="138.55" cy="1120.425" r="6.5" fill="#00c000"/>
<path d="M263.2625,1058.9495000000002 V1099.4901 M256.5625,1058.9495000000002 H269.9625 M256.5625,1099.4901 H269.9625" stroke="#00c000" stroke-width="3.3" stroke-linecap="round" fill="none"/>
<circle cx="263.2625" cy="1079.2198" r="6.5" fill="#00c000"/>
<path d="M387.975,998.4709 V1023.0611000000001 M381.27500000000003,998.4709 H394.675 M381.27500000000003,1023.0611000000001 H394.675" stroke="#00c000" stroke-width="3.3" stroke-linecap="round" fill="none"/>
<circle cx="387.975" cy="1010.7660000000001" r="6.5" fill="#00c000"/>
<path d="M637.4,934.337 V951.6166000000001 M630.6999999999999,934.337 H644.1 M630.6999999999999,951.6166000000001 H644.1" stroke="#00c000" stroke-width="3.3" stroke-linecap="round" fill="none"/>
<circle cx="637.4" cy="942.9768" r="6.5" fill="#00c000"/>
<text x="389.5" y="1001.4" font-family="Liberation Sans, sans-serif" font-weight="bold" font-size="31.5" text-anchor="middle">***</text>
<text x="639.5" y="940.0" font-family="Liberation Sans, sans-serif" font-weight="bold" font-size="31.5" text-anchor="middle">****</text>
<path d="M656.6,969.1 V1097.5" stroke="#000" stroke-width="5.1"/>
<path d="M656.6,945.6 L667.2,970.1 L646.0,970.1 Z M656.6,1121 L667.2,1096.5 L646.0,1096.5 Z" fill="#000"/>
<text transform="translate(641.6,1044) scale(0.947,1)" font-family="Liberation Sans, sans-serif" font-weight="bold" font-size="33" text-anchor="end">3.1x</text>
<circle cx="23.1" cy="1285.7" r="20.85" fill="none" stroke="#000" stroke-width="1.6"/>
<text transform="translate(23.1,1297.1000000000001) scale(1.075,1)" font-family="Liberation Sans, sans-serif" font-weight="bold" font-size="33" text-anchor="middle">D</text>
<path d="M139.4,1290.3 V1627.7" stroke="#000" stroke-width="5" fill="none"/>
<path d="M136.9,1625.2 H640.0" stroke="#000" stroke-width="5" fill="none"/>
<path d="M126.60000000000001,1625.2 H139.4" stroke="#000" stroke-width="5"/>
<text transform="translate(125.0,1634.5) scale(0.98,1)" font-family="Liberation Sans, sans-serif" font-weight="bold" font-size="26" text-anchor="end">0</text>
<path d="M126.60000000000001,1558.7 H139.4" stroke="#000" stroke-width="5"/>
<text transform="translate(125.0,1568.0) scale(0.98,1)" font-family="Liberation Sans, sans-serif" font-weight="bold" font-size="26" text-anchor="end">10</text>
<path d="M126.60000000000001,1492.2 H139.4" stroke="#000" stroke-width="5"/>
<text transform="translate(125.0,1501.5) scale(0.98,1)" font-family="Liberation Sans, sans-serif" font-weight="bold" font-size="26" text-anchor="end">20</text>
<path d="M126.60000000000001,1425.7 H139.4" stroke="#000" stroke-width="5"/>
<text transform="translate(125.0,1435.0) scale(0.98,1)" font-family="Liberation Sans, sans-serif" font-weight="bold" font-size="26" text-anchor="end">30</text>
<path d="M126.60000000000001,1359.2 H139.4" stroke="#000" stroke-width="5"/>
<text transform="translate(125.0,1368.5) scale(0.98,1)" font-family="Liberation Sans, sans-serif" font-weight="bold" font-size="26" text-anchor="end">40</text>
<path d="M126.60000000000001,1292.7 H139.4" stroke="#000" stroke-width="5"/>
<text transform="translate(125.0,1302.0) scale(0.98,1)" font-family="Liberation Sans, sans-serif" font-weight="bold" font-size="26" text-anchor="end">50</text>
<path d="M139.4,1625.2 V1638.6000000000001" stroke="#000" stroke-width="5"/>
<text transform="translate(139.4,1662.2) scale(0.98,1)" font-family="Liberation Sans, sans-serif" font-weight="bold" font-size="26" text-anchor="middle">0</text>
<path d="M239.02,1625.2 V1638.6000000000001" stroke="#000" stroke-width="5"/>
<text transform="translate(239.02,1662.2) scale(0.98,1)" font-family="Liberation Sans, sans-serif" font-weight="bold" font-size="26" text-anchor="middle">100</text>
<path d="M338.64,1625.2 V1638.6000000000001" stroke="#000" stroke-width="5"/>
<text transform="translate(338.64,1662.2) scale(0.98,1)" font-family="Liberation Sans, sans-serif" font-weight="bold" font-size="26" text-anchor="middle">200</text>
<path d="M438.26,1625.2 V1638.6000000000001" stroke="#000" stroke-width="5"/>
<text transform="translate(438.26,1662.2) scale(0.98,1)" font-family="Liberation Sans, sans-serif" font-weight="bold" font-size="26" text-anchor="middle">300</text>
<path d="M537.88,1625.2 V1638.6000000000001" stroke="#000" stroke-width="5"/>
<text transform="translate(537.88,1662.2) scale(0.98,1)" font-family="Liberation Sans, sans-serif" font-weight="bold" font-size="26" text-anchor="middle">400</text>
<path d="M637.5,1625.2 V1638.6000000000001" stroke="#000" stroke-width="5"/>
<text transform="translate(637.5,1662.2) scale(0.98,1)" font-family="Liberation Sans, sans-serif" font-weight="bold" font-size="26" text-anchor="middle">500</text>
<text transform="translate(388.45,1694.7) scale(0.94,1)" font-family="Liberation Sans, sans-serif" font-weight="bold" font-size="26" text-anchor="middle">Guanine (µM)</text>
<text transform="translate(77.1,1458.95) rotate(-90) scale(0.944,1)" font-family="Liberation Sans, sans-serif" font-weight="bold" font-size="26" text-anchor="middle">Normalized Fluorescence (%)</text>
<path d="M139.40,1362.12 L139.65,1362.71 L139.90,1363.45 L140.15,1364.26 L140.40,1365.11 L140.65,1365.99 L140.90,1366.89 L141.15,1367.81 L141.40,1368.75 L141.65,1369.69 L141.90,1370.64 L142.15,1371.60 L142.40,1372.56 L142.90,1374.48 L144.89,1382.10 L146.89,1389.43 L148.88,1396.35 L150.88,1402.82 L152.87,1408.84 L154.87,1414.43 L156.86,1419.61 L158.85,1424.42 L160.85,1428.88 L162.84,1433.02 L164.84,1436.86 L166.83,1440.45 L168.83,1443.79 L170.82,1446.90 L172.82,1449.82 L174.81,1452.54 L176.80,1455.10 L178.80,1457.50 L180.79,1459.76 L182.79,1461.89 L184.78,1463.89 L186.78,1465.78 L188.77,1467.57 L190.76,1469.26 L192.76,1470.86 L194.75,1472.39 L196.75,1473.83 L198.74,1475.20 L200.74,1476.51 L202.73,1477.75 L204.73,1478.94 L206.72,1480.07 L208.71,1481.15 L210.71,1482.19 L212.70,1483.18 L214.70,1484.12 L216.69,1485.03 L218.69,1485.90 L220.68,1486.74 L222.67,1487.54 L224.67,1488.31 L226.66,1489.05 L228.66,1489.77 L230.65,1490.45 L232.65,1491.12 L234.64,1491.75 L236.63,1492.37 L238.63,1492.96 L240.62,1493.54 L242.62,1494.09 L244.61,1494.63 L246.61,1495.15 L248.60,1495.65 L250.60,1496.13 L252.59,1496.60 L254.58,1497.06 L256.58,1497.50 L258.57,1497.93 L260.57,1498.35 L262.56,1498.75 L264.56,1499.14 L266.55,1499.52 L268.54,1499.89 L270.54,1500.25 L272.53,1500.60 L274.53,1500.94 L276.52,1501.27 L278.52,1501.59 L280.51,1501.91 L282.50,1502.21 L284.50,1502.51 L286.49,1502.80 L288.49,1503.08 L290.48,1503.36 L292.48,1503.63 L294.47,1503.89 L296.47,1504.14 L298.46,1504.39 L300.45,1504.64 L302.45,1504.87 L304.44,1505.11 L306.44,1505.33 L308.43,1505.56 L310.43,1505.77 L312.42,1505.99 L314.41,1506.19 L316.41,1506.40 L318.40,1506.60 L320.40,1506.79 L322.39,1506.98 L324.39,1507.17 L326.38,1507.35 L328.38,1507.53 L330.37,1507.70 L332.36,1507.88 L334.36,1508.04 L336.35,1508.21 L338.35,1508.37 L340.34,1508.53 L342.34,1508.68 L344.33,1508.84 L346.32,1508.99 L348.32,1509.13 L350.31,1509.28 L352.31,1509.42 L354.30,1509.56 L356.30,1509.69 L358.29,1509.83 L360.28,1509.96 L362.28,1510.09 L364.27,1510.21 L366.27,1510.34 L368.26,1510.46 L370.26,1510.58 L372.25,1510.70 L374.25,1510.82 L376.24,1510.93 L378.23,1511.04 L380.23,1511.15 L382.22,1511.26 L384.22,1511.37 L386.21,1511.47 L388.21,1511.58 L390.20,1511.68 L392.19,1511.78 L394.19,1511.88 L396.18,1511.97 L398.18,1512.07 L400.17,1512.16 L402.17,1512.26 L404.16,1512.35 L406.15,1512.44 L408.15,1512.53 L410.14,1512.61 L412.14,1512.70 L414.13,1512.78 L416.13,1512.87 L418.12,1512.95 L420.12,1513.03 L422.11,1513.11 L424.10,1513.19 L426.10,1513.27 L428.09,1513.34 L430.09,1513.42 L432.08,1513.49 L434.08,1513.57 L436.07,1513.64 L438.06,1513.71 L440.06,1513.78 L442.05,1513.85 L444.05,1513.92 L446.04,1513.98 L448.04,1514.05 L450.03,1514.12 L452.02,1514.18 L454.02,1514.25 L456.01,1514.31 L458.01,1514.37 L460.00,1514.43 L462.00,1514.49 L463.99,1514.56 L465.99,1514.61 L467.98,1514.67 L469.97,1514.73 L471.97,1514.79 L473.96,1514.84 L475.96,1514.90 L477.95,1514.96 L479.95,1515.01 L481.94,1515.06 L483.93,1515.12 L485.93,1515.17 L487.92,1515.22 L489.92,1515.27 L491.91,1515.32 L493.91,1515.37 L495.90,1515.42 L497.90,1515.47 L499.89,1515.52 L501.88,1515.57 L503.88,1515.62 L505.87,1515.66 L507.87,1515.71 L509.86,1515.75 L511.86,1515.80 L513.85,1515.84 L515.84,1515.89 L517.84,1515.93 L519.83,1515.98 L521.83,1516.02 L523.82,1516.06 L525.82,1516.10 L527.81,1516.14 L529.80,1516.19 L531.80,1516.23 L533.79,1516.27 L535.79,1516.31 L537.78,1516.35 L539.78,1516.38 L541.77,1516.42 L543.77,1516.46 L545.76,1516.50 L547.75,1516.54 L549.75,1516.57 L551.74,1516.61 L553.74,1516.65 L555.73,1516.68 L557.73,1516.72 L559.72,1516.75 L561.71,1516.79 L563.71,1516.82 L565.70,1516.86 L567.70,1516.89 L569.69,1516.92 L571.69,1516.96 L573.68,1516.99 L575.68,1517.02 L577.67,1517.05 L579.66,1517.09 L581.66,1517.12 L583.65,1517.15 L585.65,1517.18 L587.64,1517.21 L589.64,1517.24 L591.63,1517.27 L593.62,1517.30 L595.62,1517.33 L597.61,1517.36 L599.61,1517.39 L601.60,1517.42 L603.60,1517.45 L605.59,1517.48 L607.58,1517.50 L609.58,1517.53 L611.57,1517.56 L613.57,1517.59 L615.56,1517.61 L617.56,1517.64 L619.55,1517.67 L621.55,1517.69 L623.54,1517.72 L625.53,1517.74 L627.53,1517.77 L629.52,1517.80 L631.52,1517.82 L633.51,1517.85 L635.51,1517.87 L637.50,1517.90" stroke="#00c000" stroke-width="5.2" fill="none" stroke-linejoin="round" stroke-linecap="round"/>
<circle cx="139.4" cy="1360.8625" r="6.5" fill="#00c000"/>
<circle cx="239.02" cy="1494.8600000000001" r="6.5" fill="#00c000"/>
<circle cx="338.64" cy="1509.49" r="6.5" fill="#00c000"/>
<circle cx="637.5" cy="1518.135" r="6.5" fill="#00c000"/>
<text x="240.8" y="1529.0" font-family="Liberation Sans, sans-serif" font-weight="bold" font-size="31.5" text-anchor="middle">***</text>
<text x="340.2" y="1542.4" font-family="Liberation Sans, sans-serif" font-weight="bold" font-size="31.5" text-anchor="middle">***</text>
<text x="639.8" y="1551.4" font-family="Liberation Sans, sans-serif" font-weight="bold" font-size="31.5" text-anchor="middle">***</text>
<path d="M657,1384.5 V1496.5" stroke="#000" stroke-width="5.1"/>
<path d="M657,1361 L667.6,1385.5 L646.4,1385.5 Z M657,1520 L667.6,1495.5 L646.4,1495.5 Z" fill="#000"/>
<text transform="translate(642.6,1451.6) scale(0.947,1)" font-family="Liberation Sans, sans-serif" font-weight="bold" font-size="33" text-anchor="end">2.5x</text>
<circle cx="23.1" cy="1706.3" r="20.85" fill="none" stroke="#000" stroke-width="1.6"/>
<text transform="translate(23.1,1717.7) scale(0.87,1)" font-family="Liberation Sans, sans-serif" font-weight="bold" font-size="33" text-anchor="middle">E</text>
<path d="M138.3,1711.0 V2048.9" stroke="#000" stroke-width="5" fill="none"/>
<path d="M135.8,2046.4 H639.9" stroke="#000" stroke-width="5" fill="none"/>
<path d="M125.50000000000001,2046.4 H138.3" stroke="#000" stroke-width="5"/>
<text transform="translate(123.9,2055.7000000000003) scale(0.98,1)" font-family="Liberation Sans, sans-serif" font-weight="bold" font-size="26" text-anchor="end">0</text>
<path d="M125.50000000000001,1979.8000000000002 H138.3" stroke="#000" stroke-width="5"/>
<text transform="translate(123.9,1989.1000000000001) scale(0.98,1)" font-family="Liberation Sans, sans-serif" font-weight="bold" font-size="26" text-anchor="end">20</text>
<path d="M125.50000000000001,1913.2 H138.3" stroke="#000" stroke-width="5"/>
<text transform="translate(123.9,1922.5) scale(0.98,1)" font-family="Liberation Sans, sans-serif" font-weight="bold" font-size="26" text-anchor="end">40</text>
<path d="M125.50000000000001,1846.6000000000001 H138.3" stroke="#000" stroke-width="5"/>
<text transform="translate(123.9,1855.9) scale(0.98,1)" font-family="Liberation Sans, sans-serif" font-weight="bold" font-size="26" text-anchor="end">60</text>
<path d="M125.50000000000001,1780.0 H138.3" stroke="#000" stroke-width="5"/>
<text transform="translate(123.9,1789.3) scale(0.98,1)" font-family="Liberation Sans, sans-serif" font-weight="bold" font-size="26" text-anchor="end">80</text>
<path d="M125.50000000000001,1713.4 H138.3" stroke="#000" stroke-width="5"/>
<text transform="translate(123.9,1722.7) scale(0.98,1)" font-family="Liberation Sans, sans-serif" font-weight="bold" font-size="26" text-anchor="end">100</text>
<path d="M138.3,2046.4 V2059.8" stroke="#000" stroke-width="5"/>
<text transform="translate(138.3,2083.4) scale(0.98,1)" font-family="Liberation Sans, sans-serif" font-weight="bold" font-size="26" text-anchor="middle">0</text>
<path d="M263.075,2046.4 V2059.8" stroke="#000" stroke-width="5"/>
<text transform="translate(263.075,2083.4) scale(0.98,1)" font-family="Liberation Sans, sans-serif" font-weight="bold" font-size="26" text-anchor="middle">25</text>
<path d="M387.85,2046.4 V2059.8" stroke="#000" stroke-width="5"/>
<text transform="translate(387.85,2083.4) scale(0.98,1)" font-family="Liberation Sans, sans-serif" font-weight="bold" font-size="26" text-anchor="middle">50</text>
<path d="M512.625,2046.4 V2059.8" stroke="#000" stroke-width="5"/>
<text transform="translate(512.625,2083.4) scale(0.98,1)" font-family="Liberation Sans, sans-serif" font-weight="bold" font-size="26" text-anchor="middle">75</text>
<path d="M637.4,2046.4 V2059.8" stroke="#000" stroke-width="5"/>
<text transform="translate(637.4,2083.4) scale(0.98,1)" font-family="Liberation Sans, sans-serif" font-weight="bold" font-size="26" text-anchor="middle">100</text>
<text transform="translate(387.85,2116.9) scale(0.94,1)" font-family="Liberation Sans, sans-serif" font-weight="bold" font-size="26" text-anchor="middle">Tetracycline (<tspan font-weight="normal">µ</tspan>M)</text>
<text transform="translate(73.0,1879.9) rotate(-90) scale(0.944,1)" font-family="Liberation Sans, sans-serif" font-weight="bold" font-size="26" text-anchor="middle">Normalized Fluorescence (%)</text>
<path d="M138.30,1763.66 L138.55,1788.59 L138.80,1796.44 L139.05,1801.99 L139.30,1806.40 L139.55,1810.10 L139.80,1813.33 L140.05,1816.20 L140.30,1818.79 L140.55,1821.16 L140.80,1823.34 L141.05,1825.37 L141.30,1827.27 L141.80,1830.74 L143.80,1841.71 L145.80,1849.90 L147.80,1856.49 L149.79,1862.03 L151.79,1866.82 L153.79,1871.04 L155.79,1874.82 L157.79,1878.24 L159.79,1881.37 L161.78,1884.24 L163.78,1886.91 L165.78,1889.39 L167.78,1891.72 L169.78,1893.90 L171.78,1895.96 L173.77,1897.91 L175.77,1899.76 L177.77,1901.52 L179.77,1903.20 L181.77,1904.80 L183.77,1906.33 L185.76,1907.81 L187.76,1909.22 L189.76,1910.58 L191.76,1911.89 L193.76,1913.15 L195.76,1914.37 L197.75,1915.54 L199.75,1916.68 L201.75,1917.79 L203.75,1918.86 L205.75,1919.90 L207.75,1920.91 L209.75,1921.89 L211.74,1922.84 L213.74,1923.77 L215.74,1924.67 L217.74,1925.55 L219.74,1926.41 L221.74,1927.24 L223.73,1928.06 L225.73,1928.86 L227.73,1929.64 L229.73,1930.40 L231.73,1931.14 L233.73,1931.87 L235.72,1932.59 L237.72,1933.29 L239.72,1933.97 L241.72,1934.64 L243.72,1935.30 L245.72,1935.94 L247.71,1936.57 L249.71,1937.19 L251.71,1937.80 L253.71,1938.40 L255.71,1938.99 L257.71,1939.57 L259.70,1940.13 L261.70,1940.69 L263.70,1941.24 L265.70,1941.78 L267.70,1942.31 L269.70,1942.83 L271.70,1943.34 L273.69,1943.85 L275.69,1944.34 L277.69,1944.83 L279.69,1945.32 L281.69,1945.79 L283.69,1946.26 L285.68,1946.72 L287.68,1947.17 L289.68,1947.62 L291.68,1948.06 L293.68,1948.50 L295.68,1948.93 L297.67,1949.35 L299.67,1949.77 L301.67,1950.19 L303.67,1950.59 L305.67,1951.00 L307.67,1951.39 L309.66,1951.78 L311.66,1952.17 L313.66,1952.55 L315.66,1952.93 L317.66,1953.31 L319.66,1953.67 L321.65,1954.04 L323.65,1954.40 L325.65,1954.75 L327.65,1955.11 L329.65,1955.45 L331.65,1955.80 L333.65,1956.14 L335.64,1956.47 L337.64,1956.81 L339.64,1957.13 L341.64,1957.46 L343.64,1957.78 L345.64,1958.10 L347.63,1958.42 L349.63,1958.73 L351.63,1959.04 L353.63,1959.34 L355.63,1959.64 L357.63,1959.94 L359.62,1960.24 L361.62,1960.53 L363.62,1960.82 L365.62,1961.11 L367.62,1961.40 L369.62,1961.68 L371.61,1961.96 L373.61,1962.23 L375.61,1962.51 L377.61,1962.78 L379.61,1963.05 L381.61,1963.32 L383.60,1963.58 L385.60,1963.84 L387.60,1964.10 L389.60,1964.36 L391.60,1964.61 L393.60,1964.87 L395.60,1965.12 L397.59,1965.37 L399.59,1965.61 L401.59,1965.86 L403.59,1966.10 L405.59,1966.34 L407.59,1966.58 L409.58,1966.81 L411.58,1967.05 L413.58,1967.28 L415.58,1967.51 L417.58,1967.74 L419.58,1967.96 L421.57,1968.19 L423.57,1968.41 L425.57,1968.63 L427.57,1968.85 L429.57,1969.07 L431.57,1969.29 L433.56,1969.50 L435.56,1969.72 L437.56,1969.93 L439.56,1970.14 L441.56,1970.35 L443.56,1970.55 L445.55,1970.76 L447.55,1970.96 L449.55,1971.16 L451.55,1971.36 L453.55,1971.56 L455.55,1971.76 L457.55,1971.96 L459.54,1972.15 L461.54,1972.35 L463.54,1972.54 L465.54,1972.73 L467.54,1972.92 L469.54,1973.11 L471.53,1973.30 L473.53,1973.48 L475.53,1973.67 L477.53,1973.85 L479.53,1974.03 L481.53,1974.21 L483.52,1974.39 L485.52,1974.57 L487.52,1974.75 L489.52,1974.92 L491.52,1975.10 L493.52,1975.27 L495.51,1975.45 L497.51,1975.62 L499.51,1975.79 L501.51,1975.96 L503.51,1976.13 L505.51,1976.29 L507.50,1976.46 L509.50,1976.63 L511.50,1976.79 L513.50,1976.95 L515.50,1977.12 L517.50,1977.28 L519.50,1977.44 L521.49,1977.60 L523.49,1977.76 L525.49,1977.91 L527.49,1978.07 L529.49,1978.22 L531.49,1978.38 L533.48,1978.53 L535.48,1978.69 L537.48,1978.84 L539.48,1978.99 L541.48,1979.14 L543.48,1979.29 L545.47,1979.44 L547.47,1979.59 L549.47,1979.73 L551.47,1979.88 L553.47,1980.02 L555.47,1980.17 L557.46,1980.31 L559.46,1980.46 L561.46,1980.60 L563.46,1980.74 L565.46,1980.88 L567.46,1981.02 L569.45,1981.16 L571.45,1981.30 L573.45,1981.43 L575.45,1981.57 L577.45,1981.71 L579.45,1981.84 L581.45,1981.98 L583.44,1982.11 L585.44,1982.25 L587.44,1982.38 L589.44,1982.51 L591.44,1982.64 L593.44,1982.77 L595.43,1982.90 L597.43,1983.03 L599.43,1983.16 L601.43,1983.29 L603.43,1983.42 L605.43,1983.54 L607.42,1983.67 L609.42,1983.79 L611.42,1983.92 L613.42,1984.04 L615.42,1984.17 L617.42,1984.29 L619.41,1984.41 L621.41,1984.53 L623.41,1984.66 L625.41,1984.78 L627.41,1984.90 L629.41,1985.02 L631.40,1985.13 L633.40,1985.25 L635.40,1985.37 L637.40,1985.49" stroke="#00c000" stroke-width="5.2" fill="none" stroke-linejoin="round" stroke-linecap="round"/>
<path d="M138.3,1755.1915000000001 V1770.8425 M131.60000000000002,1755.1915000000001 H145.0 M131.60000000000002,1770.8425 H145.0" stroke="#00c000" stroke-width="3.3" stroke-linecap="round" fill="none"/>
<circle cx="138.3" cy="1763.017" r="6.5" fill="#00c000"/>
<circle cx="263.075" cy="1941.505" r="6.5" fill="#00c000"/>
<circle cx="387.85" cy="1964.1490000000001" r="6.5" fill="#00c000"/>
<circle cx="637.4" cy="1985.2945" r="6.5" fill="#00c000"/>
<text x="264.8" y="1972.9" font-family="Liberation Sans, sans-serif" font-weight="bold" font-size="31.5" text-anchor="middle">****</text>
<text x="389.8" y="1996.0" font-family="Liberation Sans, sans-serif" font-weight="bold" font-size="31.5" text-anchor="middle">****</text>
<text x="635" y="2017.9" font-family="Liberation Sans, sans-serif" font-weight="bold" font-size="31.5" text-anchor="middle">****</text>
<path d="M655.3,1788.6 V1961.5" stroke="#000" stroke-width="5.1"/>
<path d="M655.3,1765.1 L665.9,1789.6 L644.6999999999999,1789.6 Z M655.3,1985 L665.9,1960.5 L644.6999999999999,1960.5 Z" fill="#000"/>
<text transform="translate(644,1886.5) scale(0.947,1)" font-family="Liberation Sans, sans-serif" font-weight="bold" font-size="33" text-anchor="end">4.6x</text>
</svg></body></html>
